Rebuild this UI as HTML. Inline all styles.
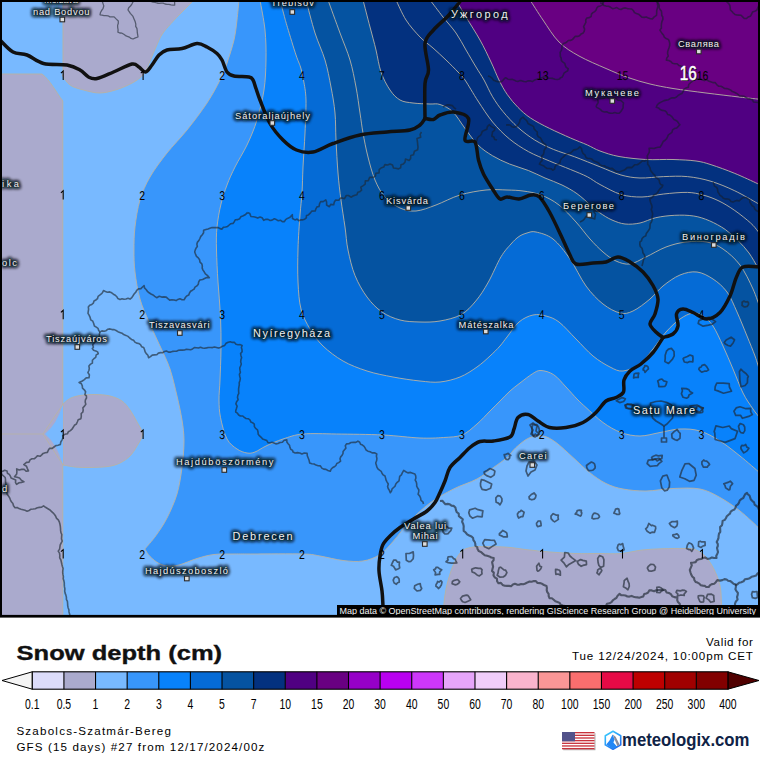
<!DOCTYPE html>
<html><head><meta charset="utf-8"><title>Snow depth (cm)</title>
<style>
html,body{margin:0;padding:0;background:#fff;}
body{width:760px;height:760px;overflow:hidden;font-family:"Liberation Sans",sans-serif;}
svg{display:block;}
text{font-family:"Liberation Sans",sans-serif;}
.cl{fill:none;stroke:#b8b2a4;stroke-width:0.9;}
.num{font-size:12.8px;fill:#000;text-anchor:middle;text-rendering:geometricPrecision;}
.city{font-size:11px;fill:#fff;text-anchor:middle;letter-spacing:0.6px;}
.cityb{font-size:12.5px;fill:#fff;text-anchor:middle;letter-spacing:1.3px;}
.halo{stroke:#0a0e1a;stroke-opacity:0.55;stroke-width:4.2;stroke-linejoin:round;fill:#0a0e1a;}
.adm{fill:none;stroke:#1e3c64;stroke-opacity:0.75;stroke-width:1.3;stroke-linejoin:round;}
.adm2{fill:none;stroke:#1e2832;stroke-opacity:0.66;stroke-width:2.1;stroke-linejoin:round;}
.brd{fill:none;stroke:#111;stroke-width:3.5;stroke-linejoin:round;stroke-linecap:round;}
.mk{fill:#dcdcdc;stroke:#2a2a2a;stroke-width:1.1;}
.cb{font-size:14.5px;fill:#000;text-anchor:middle;}
.inf{font-size:11.6px;fill:#000;letter-spacing:0.55px;}
</style></head><body>
<svg width="760" height="760" viewBox="0 0 760 760">
<defs>
<clipPath id="mapclip"><rect x="0" y="0" width="760" height="617"/></clipPath>
<filter id="blur" x="-20%" y="-40%" width="140%" height="180%"><feGaussianBlur stdDeviation="1.8"/></filter>
</defs>
<rect x="0" y="0" width="760" height="760" fill="#fff"/>
<g clip-path="url(#mapclip)">

<rect x="0" y="0" width="760" height="617" fill="#78b9ff"/>
<path d="M63,-2 L63,75 L62.0,75.0C63.3,76.7 66.4,82.5 70.0,85.0C73.6,87.5 78.5,88.7 83.5,90.0C88.5,91.3 94.4,93.1 100.0,93.0C105.6,92.9 111.3,91.3 117.0,89.5C122.7,87.7 129.5,84.7 134.0,82.0C138.5,79.3 141.2,77.2 144.0,73.5C146.8,69.8 148.5,64.4 150.5,60.0C152.5,55.6 153.9,51.5 156.0,47.0C158.1,42.5 159.3,38.2 163.0,33.0C166.7,27.8 175.5,18.8 178.0,16.0 L196,-2Z" fill="#aaaacd" stroke="#b8b2a4" stroke-width="0.9"/>
<path d="M0,74 L42,74 C50,80 56,92 62.8,101 L62.8,617 L0,617Z" fill="#aaaacd" stroke="#b8b2a4" stroke-width="0.9"/>
<path d="M63.0,404.0C64.2,403.1 67.2,399.9 70.0,398.5C72.8,397.1 75.8,396.2 80.0,395.5C84.2,394.8 90.0,394.4 95.0,394.5C100.0,394.6 105.5,394.9 110.0,396.0C114.5,397.1 118.7,398.7 122.0,401.0C125.3,403.3 127.5,406.5 130.0,410.0C132.5,413.5 134.9,418.0 137.0,422.0C139.1,426.0 142.5,430.0 142.5,434.0C142.5,438.0 139.1,442.3 137.0,446.0C134.9,449.7 132.8,453.2 130.0,456.0C127.2,458.8 123.7,461.2 120.0,463.0C116.3,464.8 113.0,465.8 108.0,466.5C103.0,467.2 95.5,467.4 90.0,467.5C84.5,467.6 79.5,467.4 75.0,467.0C70.5,466.6 65.0,465.3 63.0,465.0Z" fill="#aaaacd" stroke="#b8b2a4" stroke-width="0.9"/>
<path d="M63,404 Q57,424 45,434 Q57,444 63,465Z" fill="#78b9ff"/>
<path d="M63,404 L43,434 L63,465" fill="none" stroke="#b8b2a4" stroke-width="0.9"/>
<path d="M0,434 L43,434" fill="none" stroke="#b8b2a4" stroke-width="0.8"/>
<path d="M443.5,617.0C443.6,614.7 443.4,608.4 444.0,603.0C444.6,597.6 445.4,590.9 447.0,584.5C448.6,578.1 451.0,570.1 453.5,564.5C456.0,558.9 458.7,553.9 462.0,551.0C465.3,548.1 469.7,547.7 473.5,547.0C477.3,546.3 479.4,546.6 485.0,546.6C490.6,546.6 500.0,546.7 507.0,547.2C514.0,547.7 519.8,548.9 527.0,549.7C534.2,550.5 542.0,551.4 550.0,552.0C558.0,552.6 566.7,553.2 575.0,553.5C583.3,553.8 592.3,553.5 600.0,553.5C607.7,553.5 614.0,554.1 621.0,553.5C628.0,552.9 635.0,550.8 642.0,550.0C649.0,549.2 656.0,549.0 663.0,548.7C670.0,548.5 678.7,548.4 684.0,548.5C689.3,548.6 691.5,548.2 695.0,549.5C698.5,550.8 701.9,552.8 705.0,556.0C708.1,559.2 711.2,563.8 713.7,568.7C716.2,573.6 718.7,579.5 720.0,585.5C721.3,591.5 721.2,599.2 721.5,604.5C721.8,609.8 721.9,614.9 722.0,617.0Z" fill="#aaaacd" stroke="#b8b2a4" stroke-width="0.9"/>
<path d="M239.0,0.0C238.7,3.3 237.8,13.3 237.0,20.0C236.2,26.7 235.7,32.8 234.0,40.0C232.3,47.2 229.3,56.3 227.0,63.0C224.7,69.7 223.3,73.3 220.0,80.0C216.7,86.7 212.5,94.7 207.0,103.0C201.5,111.3 193.7,121.7 187.0,130.0C180.3,138.3 173.2,145.2 167.0,153.0C160.8,160.8 154.5,169.2 150.0,177.0C145.5,184.8 142.5,191.7 140.0,200.0C137.5,208.3 136.0,218.7 135.0,227.0C134.0,235.3 134.0,242.5 134.0,250.0C134.0,257.5 134.0,263.8 135.0,272.0C136.0,280.2 137.7,290.7 140.0,299.0C142.3,307.3 145.7,314.2 149.0,322.0C152.3,329.8 156.5,338.2 160.0,346.0C163.5,353.8 167.2,360.7 170.0,369.0C172.8,377.3 175.0,387.5 177.0,396.0C179.0,404.5 180.8,412.5 182.0,420.0C183.2,427.5 184.0,433.1 184.0,441.0C184.0,448.9 183.2,458.7 182.0,467.5C180.8,476.3 179.5,485.6 177.0,494.0C174.5,502.4 170.5,511.1 167.0,518.0C163.5,524.9 159.7,530.3 156.0,535.5C152.3,540.7 146.7,546.8 144.8,549.0L144.8,549.0C145.7,550.2 147.6,554.1 150.0,556.5C152.4,558.9 156.0,561.9 159.0,563.5C162.0,565.1 164.7,565.8 168.0,566.0C171.3,566.2 174.2,566.2 179.0,565.0C183.8,563.8 191.2,560.2 197.0,558.5C202.8,556.8 207.8,555.2 214.0,554.5C220.2,553.8 227.3,554.1 234.0,554.0C240.7,553.9 242.5,554.0 254.0,554.0C265.5,554.0 292.0,553.7 303.0,554.0C314.0,554.3 313.3,554.9 320.0,556.0C326.7,557.1 335.8,559.7 343.0,560.5C350.2,561.3 356.8,562.0 363.0,561.0C369.2,560.0 374.9,557.8 380.0,554.5C385.1,551.2 388.5,546.6 393.5,541.0C398.5,535.4 403.9,527.3 410.0,521.0C416.1,514.7 422.8,508.3 430.0,503.0C437.2,497.7 445.7,493.0 453.5,489.0C461.3,485.0 470.3,482.6 477.0,479.0C483.7,475.4 488.5,471.1 493.5,467.5C498.5,463.9 503.2,460.8 507.0,457.5C510.8,454.2 512.3,450.8 516.0,447.5C519.7,444.2 524.5,439.9 529.0,438.0C533.5,436.1 538.5,435.2 543.0,436.0C547.5,436.8 551.0,438.9 556.0,442.5C561.0,446.1 567.4,452.5 573.0,457.5C578.6,462.5 584.0,468.2 589.5,472.5C595.0,476.8 600.4,480.8 606.0,483.5C611.6,486.2 616.3,487.8 623.0,489.0C629.7,490.2 637.7,491.1 646.0,491.0C654.3,490.9 664.0,488.8 673.0,488.5C682.0,488.2 692.2,487.5 700.0,489.0C707.8,490.5 713.3,493.8 720.0,497.5C726.7,501.2 733.3,505.8 740.0,511.0C746.7,516.2 756.7,526.0 760.0,529.0L762,529.0 L762,-2 L239.0,-2Z" fill="#3896fb" stroke="#b8b2a4" stroke-width="0.9"/>
<path d="M260.0,0.0C260.8,5.0 264.0,20.0 265.0,30.0C266.0,40.0 266.2,50.0 266.0,60.0C265.8,70.0 265.5,80.0 264.0,90.0C262.5,100.0 259.8,110.8 257.0,120.0C254.2,129.2 250.7,137.2 247.0,145.0C243.3,152.8 238.3,160.3 235.0,167.0C231.7,173.7 229.3,178.8 227.0,185.0C224.7,191.2 222.7,197.0 221.0,204.0C219.3,211.0 217.8,219.3 217.0,227.0C216.2,234.7 216.3,240.8 216.5,250.0C216.7,259.2 217.3,271.0 218.0,282.0C218.7,293.0 220.0,304.8 220.5,316.0C221.0,327.2 221.1,338.3 221.0,349.0C220.9,359.7 220.3,371.5 220.0,380.0C219.7,388.5 218.9,393.8 219.0,400.0C219.1,406.2 219.2,411.0 220.5,417.5C221.8,424.0 224.2,433.8 227.0,439.0C229.8,444.2 233.7,446.7 237.0,449.0C240.3,451.3 244.0,452.5 247.0,453.0C250.0,453.5 251.8,453.2 255.0,452.0C258.2,450.8 261.3,448.2 266.0,446.0C270.7,443.8 276.8,441.0 283.0,439.0C289.2,437.0 294.1,434.8 303.0,434.0C311.9,433.2 323.2,433.8 336.5,434.0C349.8,434.2 369.1,434.3 383.0,435.0C396.9,435.7 409.9,437.6 420.0,438.0C430.1,438.4 436.5,438.0 443.5,437.5C450.5,437.0 456.4,437.2 462.0,435.0C467.6,432.8 472.3,428.0 477.0,424.0C481.7,420.0 486.2,414.8 490.0,411.0C493.8,407.2 496.7,404.3 500.0,401.0C503.3,397.7 506.7,394.0 510.0,391.0C513.3,388.0 516.2,385.9 520.0,383.0C523.8,380.1 529.1,375.8 532.6,373.7C536.1,371.6 537.5,370.3 541.0,370.5C544.5,370.7 549.5,371.9 553.7,374.7C557.9,377.4 562.1,382.9 566.0,387.0C569.9,391.1 573.7,395.6 577.0,399.0C580.3,402.4 581.7,403.6 586.0,407.5C590.3,411.4 597.2,418.3 603.0,422.5C608.8,426.7 614.8,430.2 621.0,432.5C627.2,434.8 633.5,436.0 640.0,436.0C646.5,436.0 653.3,433.7 660.0,432.5C666.7,431.3 673.3,429.2 680.0,429.0C686.7,428.8 693.3,429.0 700.0,431.0C706.7,433.0 713.3,436.8 720.0,441.0C726.7,445.2 733.3,450.7 740.0,456.0C746.7,461.3 756.7,470.2 760.0,473.0L762,473.0 L762,-2 L260.0,-2Z" fill="#0882fb" stroke="#b8b2a4" stroke-width="0.9"/>
<path d="M280.0,0.0C280.7,2.5 282.8,10.4 284.0,15.0C285.2,19.6 285.5,20.8 287.5,27.5C289.5,34.2 293.8,48.4 296.0,55.0C298.2,61.6 299.2,62.8 300.5,67.0C301.8,71.2 302.6,74.5 303.5,80.0C304.4,85.5 305.8,91.2 306.0,100.0C306.2,108.8 305.5,121.8 305.0,133.0C304.5,144.2 303.5,157.0 303.0,167.0C302.5,177.0 302.5,185.0 302.0,193.0C301.5,201.0 300.7,205.7 300.0,215.0C299.3,224.3 298.3,237.8 298.0,249.0C297.7,260.2 297.5,272.0 298.0,282.0C298.5,292.0 299.0,301.2 301.0,309.0C303.0,316.8 306.3,322.8 310.0,329.0C313.7,335.2 317.5,340.7 323.0,346.0C328.5,351.3 335.7,356.8 343.0,361.0C350.3,365.2 358.7,368.3 367.0,371.0C375.3,373.7 384.2,375.3 393.0,377.0C401.8,378.7 412.2,380.2 420.0,381.0C427.8,381.8 433.3,382.7 440.0,382.0C446.7,381.3 453.8,379.5 460.0,377.0C466.2,374.5 472.0,370.5 477.0,367.0C482.0,363.5 486.2,359.5 490.0,356.0C493.8,352.5 497.2,349.2 500.0,346.0C502.8,342.8 503.8,341.0 507.0,337.0C510.2,333.0 514.7,325.7 519.0,322.0C523.3,318.3 528.5,316.0 533.0,315.0C537.5,314.0 541.7,314.8 546.0,316.0C550.3,317.2 554.0,318.2 559.0,322.0C564.0,325.8 570.3,333.3 576.0,339.0C581.7,344.7 587.3,351.3 593.0,356.0C598.7,360.7 605.0,364.5 610.0,367.0C615.0,369.5 618.0,371.5 623.0,371.0C628.0,370.5 635.0,367.7 640.0,364.0C645.0,360.3 648.7,354.3 653.0,349.0C657.3,343.7 661.5,337.0 666.0,332.0C670.5,327.0 675.5,322.2 680.0,319.0C684.5,315.8 689.2,313.5 693.0,313.0C696.8,312.5 699.7,313.8 703.0,316.0C706.3,318.2 709.7,321.0 713.0,326.0C716.3,331.0 719.7,338.8 723.0,346.0C726.3,353.2 729.7,361.2 733.0,369.0C736.3,376.8 739.7,386.3 743.0,393.0C746.3,399.7 750.2,404.8 753.0,409.0C755.8,413.2 758.8,416.5 760.0,418.0L762,418.0 L762,-2 L280.0,-2Z" fill="#056bd6" stroke="#b8b2a4" stroke-width="0.9"/>
<path d="M306.0,0.0C307.5,5.5 311.8,23.0 315.0,33.0C318.2,43.0 322.3,51.0 325.0,60.0C327.7,69.0 329.3,78.2 331.0,87.0C332.7,95.8 334.2,104.2 335.0,113.0C335.8,121.8 335.5,130.0 336.0,140.0C336.5,150.0 337.2,163.0 338.0,173.0C338.8,183.0 339.8,191.0 341.0,200.0C342.2,209.0 343.8,218.7 345.0,227.0C346.2,235.3 346.3,241.9 348.0,250.0C349.7,258.1 351.8,267.7 355.0,275.5C358.2,283.3 362.5,290.9 367.0,297.0C371.5,303.1 376.5,308.2 382.0,312.0C387.5,315.8 393.7,318.3 400.0,320.0C406.3,321.7 413.3,321.8 420.0,322.0C426.7,322.2 433.2,322.2 440.0,321.0C446.8,319.8 455.0,318.0 461.0,314.7C467.0,311.4 471.2,306.4 475.8,301.0C480.4,295.6 484.2,289.4 488.4,282.0C492.6,274.6 497.2,263.1 501.0,256.8C504.8,250.5 508.0,247.4 511.0,244.0C514.0,240.6 516.3,238.3 519.0,236.5C521.7,234.7 524.2,233.8 527.0,233.0C529.8,232.2 531.7,231.0 536.0,232.0C540.3,233.0 547.3,234.5 553.0,239.0C558.7,243.5 564.5,251.2 570.0,259.0C575.5,266.8 580.5,278.5 586.0,286.0C591.5,293.5 597.3,299.5 603.0,304.0C608.7,308.5 615.0,311.8 620.0,313.0C625.0,314.2 628.0,313.3 633.0,311.0C638.0,308.7 645.0,303.2 650.0,299.0C655.0,294.8 658.0,290.0 663.0,286.0C668.0,282.0 674.3,277.3 680.0,275.0C685.7,272.7 691.5,271.3 697.0,272.0C702.5,272.7 708.0,275.7 713.0,279.0C718.0,282.3 723.0,286.5 727.0,292.0C731.0,297.5 733.7,304.7 737.0,312.0C740.3,319.3 744.0,328.7 747.0,336.0C750.0,343.3 752.8,350.0 755.0,356.0C757.2,362.0 759.2,369.3 760.0,372.0L762,372.0 L762,-2 L306.0,-2Z" fill="#0553a1" stroke="#b8b2a4" stroke-width="0.9"/>
<path d="M363.0,0.0C364.2,4.5 367.8,18.7 370.0,27.0C372.2,35.3 374.2,42.5 376.0,50.0C377.8,57.5 378.7,65.3 381.0,72.0C383.3,78.7 386.8,85.3 390.0,90.0C393.2,94.7 396.2,97.8 400.0,100.0C403.8,102.2 408.0,102.3 413.0,103.0C418.0,103.7 425.5,103.8 430.0,104.0C434.5,104.2 436.2,103.2 440.0,104.5C443.8,105.8 448.4,107.6 452.6,111.6C456.8,115.6 460.8,122.8 465.0,128.4C469.2,134.0 473.4,140.4 478.0,145.0C482.6,149.6 487.4,152.6 492.6,155.8C497.9,159.0 503.5,161.6 509.5,164.0C515.5,166.4 522.5,168.2 528.4,170.5C534.3,172.8 539.4,175.6 545.0,178.0C550.6,180.4 556.7,182.4 562.0,185.0C567.3,187.6 572.1,190.2 577.0,193.7C581.9,197.2 587.8,202.8 591.6,206.0C595.4,209.2 596.6,210.7 600.0,213.0C603.4,215.3 607.8,218.2 612.0,220.0C616.2,221.8 620.3,223.5 625.0,224.0C629.7,224.5 634.9,224.1 640.0,223.0C645.1,221.9 650.0,219.0 655.8,217.7C661.6,216.4 668.5,215.6 674.8,215.3C681.1,215.0 687.9,215.1 693.7,216.0C699.5,216.9 704.2,218.6 709.5,220.8C714.8,223.1 720.5,226.2 725.3,229.5C730.0,232.8 734.0,236.7 738.0,240.6C742.0,244.5 745.7,248.5 749.0,253.0C752.3,257.5 755.5,263.7 757.7,267.4C759.9,271.1 761.3,273.7 762.0,275.0L762,275.0 L762,-2 L363.0,-2Z" fill="#03317f" stroke="#b8b2a4" stroke-width="0.9"/>
<path d="M456.0,0.0C457.7,2.8 462.0,10.3 466.0,17.0C470.0,23.7 475.8,32.5 480.0,40.0C484.2,47.5 487.8,55.3 491.0,62.0C494.2,68.7 496.3,74.5 499.0,80.0C501.7,85.5 504.2,90.1 507.4,94.7C510.6,99.3 514.1,103.5 518.0,107.4C521.9,111.3 525.2,114.5 530.5,118.0C535.8,121.5 542.8,125.1 549.5,128.4C556.2,131.7 564.2,135.2 570.5,138.0C576.8,140.8 582.5,142.8 587.4,145.0C592.3,147.2 594.7,149.1 600.0,151.0C605.3,152.9 611.3,155.1 619.0,156.5C626.7,157.9 637.0,159.0 646.0,159.5C655.0,160.0 664.7,159.2 673.0,159.5C681.3,159.8 689.7,160.1 696.0,161.0C702.3,161.9 704.5,162.6 711.0,164.7C717.5,166.8 727.0,170.2 734.8,173.4C742.6,176.6 753.2,181.6 757.7,183.7C762.2,185.8 761.3,185.6 762.0,186.0L762,186.0 L762,-2 L456.0,-2Z" fill="#500082" stroke="#b8b2a4" stroke-width="0.9"/>
<path d="M530.0,0.0C532.2,3.3 538.2,13.0 543.0,20.0C547.8,27.0 553.0,36.0 559.0,42.0C565.0,48.0 571.2,51.6 579.0,56.0C586.8,60.4 597.8,64.9 606.0,68.5C614.2,72.1 620.7,74.9 628.0,77.5C635.3,80.1 642.5,82.2 650.0,84.0C657.5,85.8 663.7,87.0 673.0,88.5C682.3,90.0 695.0,91.6 706.0,93.0C717.0,94.4 729.7,95.9 739.0,97.0C748.3,98.1 758.2,99.1 762.0,99.5L762,99.5 L762,-2 L530.0,-2Z" fill="#690082" stroke="#b8b2a4" stroke-width="0.9"/>
<path class="cl" d="M328.0,0.0C330.0,5.5 336.3,23.0 340.0,33.0C343.7,43.0 347.3,51.0 350.0,60.0C352.7,69.0 354.3,78.2 356.0,87.0C357.7,95.8 358.8,105.3 360.0,113.0C361.2,120.7 361.7,125.7 363.0,133.0C364.3,140.3 366.0,149.2 368.0,157.0C370.0,164.8 372.2,173.3 375.0,180.0C377.8,186.7 380.8,192.3 385.0,197.0C389.2,201.7 394.8,205.7 400.0,208.0C405.2,210.3 410.0,211.5 416.0,211.0C422.0,210.5 428.7,207.7 436.0,205.0C443.3,202.3 451.7,197.5 460.0,195.0C468.3,192.5 478.2,190.8 486.0,190.0C493.8,189.2 500.8,189.8 507.0,190.0C513.2,190.2 517.3,190.2 523.0,191.0C528.7,191.8 535.0,192.7 541.0,195.0C547.0,197.3 553.2,200.5 559.0,205.0C564.8,209.5 570.8,216.3 576.0,222.0C581.2,227.7 585.5,234.0 590.0,239.0C594.5,244.0 598.7,248.3 603.0,252.0C607.3,255.7 611.5,259.0 616.0,261.0C620.5,263.0 625.0,264.7 630.0,264.0C635.0,263.3 640.0,259.8 646.0,257.0C652.0,254.2 659.3,249.5 666.0,247.0C672.7,244.5 679.2,242.8 686.0,242.0C692.8,241.2 700.8,240.8 707.0,242.0C713.2,243.2 717.5,245.2 723.0,249.0C728.5,252.8 735.0,258.3 740.0,265.0C745.0,271.7 749.7,281.8 753.0,289.0C756.3,296.2 758.8,304.8 760.0,308.0"/>
<path class="cl" d="M396.0,0.0C397.7,3.3 402.0,13.8 406.0,20.0C410.0,26.2 415.5,32.3 420.0,37.0C424.5,41.7 428.7,44.2 433.0,48.0C437.3,51.8 441.8,56.0 446.0,60.0C450.2,64.0 454.8,68.7 458.0,72.0C461.2,75.3 461.7,75.2 465.0,80.0C468.3,84.8 473.4,94.0 478.0,101.0C482.6,108.0 487.4,115.7 492.6,122.0C497.9,128.3 503.5,134.1 509.5,139.0C515.5,143.9 521.7,147.9 528.4,151.6C535.1,155.3 542.5,158.0 549.5,161.0C556.5,164.0 564.2,166.9 570.5,169.5C576.8,172.1 582.5,174.3 587.4,176.8C592.3,179.3 594.4,181.6 600.0,184.5C605.6,187.4 614.0,192.4 621.0,194.5C628.0,196.6 634.9,197.1 642.0,197.0C649.1,196.9 656.1,194.8 663.7,194.0C671.3,193.2 680.9,192.2 687.4,192.4C693.9,192.6 697.7,193.6 703.0,195.0C708.3,196.4 713.7,198.4 719.0,201.0C724.3,203.6 729.5,206.8 734.8,210.5C740.1,214.2 746.8,219.6 750.6,223.0C754.4,226.4 755.8,228.8 757.7,231.0C759.6,233.2 761.3,235.2 762.0,236.0"/>
<path class="cl" d="M430.0,0.0C432.2,2.8 438.7,11.5 443.0,17.0C447.3,22.5 452.2,27.5 456.0,33.0C459.8,38.5 462.7,44.3 466.0,50.0C469.3,55.7 473.0,62.0 476.0,67.0C479.0,72.0 481.2,75.0 484.0,80.0C486.8,85.0 489.4,91.5 492.6,96.8C495.8,102.1 498.8,106.5 503.0,111.6C507.2,116.7 512.7,122.7 518.0,127.4C523.3,132.1 528.8,136.3 534.7,140.0C540.7,143.7 547.0,146.7 553.7,149.5C560.4,152.3 567.0,153.9 574.7,156.8C582.4,159.7 592.3,163.8 600.0,166.8C607.7,169.8 614.3,173.1 621.0,175.0C627.7,176.9 632.9,177.7 640.0,178.0C647.1,178.3 655.8,176.8 663.7,176.6C671.6,176.4 679.5,175.8 687.4,176.6C695.3,177.4 703.1,178.9 711.0,181.3C718.9,183.7 727.0,187.1 734.8,190.8C742.6,194.5 753.2,200.9 757.7,203.4C762.2,205.9 761.3,205.6 762.0,206.0"/>
<g class="adm" style="stroke:#1e2832;stroke-opacity:0.6;stroke-width:1.3">
<path d="M101.0,0.0L102.4,1.8L103.1,3.9L103.8,5.9L103.1,8.3L101.7,10.4L100.5,12.5L100.0,14.8L102.0,15.1L104.0,15.6L106.0,15.7L108.0,15.8L109.9,16.9L112.0,16.9L114.1,16.9L116.1,18.9L118.3,21.0L118.3,23.2L117.6,25.4L117.7,27.6L118.1,29.8L117.9,32.2L119.8,33.0L122.0,33.2L123.8,34.3L125.5,35.6L127.4,36.4L129.3,37.1L131.0,38.4L133.0,39.0L135.4,37.8L138.0,37.0L137.7,34.9L137.3,32.7L137.2,30.6L136.9,28.4L135.7,26.4L135.8,24.2L135.3,22.1L134.6,20.3L133.8,18.4L133.0,16.4L131.7,14.9L130.3,13.4L129.2,11.7L128.0,10.0L128.7,7.7L130.5,6.0L131.9,4.1L132.9,1.9L135.0,0.0"/>
<path d="M147.0,0.0L149.1,0.4L150.9,1.4L152.9,2.1L155.0,2.4L157.0,3.0L159.0,3.3L161.0,3.1L163.1,3.2L165.0,4.0L167.0,4.4L169.0,4.4L171.0,4.8L173.0,5.1L174.7,5.0L174.6,2.5L175.0,0.0"/>
</g>
<g class="adm" style="stroke:#1e2832;stroke-opacity:0.64;stroke-width:1.6">
<path d="M247.4,212.6L245.6,214.5L243.3,215.8L240.8,216.8L239.7,218.7L237.8,219.6L235.4,219.7L234.3,221.7L233.0,223.4L230.8,223.7L229.2,225.0L227.6,226.4L225.6,227.0L223.4,227.3L222.0,229.1L220.0,228.6L218.1,227.5L216.0,227.6L214.2,227.6L212.0,227.6L209.9,228.2L208.0,229.0L205.9,229.6L203.6,230.3L203.6,232.8L202.3,234.7L200.8,236.4L199.9,238.5L198.9,240.5L197.5,242.1L196.9,244.1L197.3,246.5L196.0,248.2L195.2,250.1L194.7,251.9L195.5,254.1L196.5,256.3L198.3,257.9L199.6,259.8L200.0,262.2L201.8,263.8L202.3,265.9L202.2,268.1L203.0,270.1L204.2,271.8L205.4,273.9L207.3,275.3L209.3,277.7L206.7,277.5L204.6,278.5L202.6,279.5L199.8,280.0L198.7,281.8L198.3,284.2L196.9,285.9L195.0,287.1L194.1,289.1L192.4,290.2L190.6,291.3L189.5,293.0L188.7,295.1L186.7,295.9L185.4,297.5L184.1,299.8L182.1,299.8L179.9,298.7L177.9,299.4L176.1,300.6L174.2,300.0L172.0,299.8L169.7,300.1L167.9,298.7L166.2,297.1L164.0,296.9L161.7,297.1L159.3,296.3L156.7,297.7L154.8,296.3L153.0,294.9L151.0,294.0L149.1,292.8L147.7,291.7L146.3,289.7L144.5,287.9L144.1,285.6L142.5,287.0L140.9,288.6L138.5,288.9L136.7,290.3L135.7,292.3L134.2,293.9L133.0,295.8L131.8,297.6L130.0,299.1L128.0,298.3L126.0,299.0L124.0,299.3L122.0,298.8L120.0,299.5L117.9,298.6L116.8,296.7L115.3,295.2L113.4,294.2L111.7,292.8L109.7,291.9L107.4,292.2L105.4,291.5L103.5,290.5L102.6,292.4L101.3,293.9L99.7,295.2L98.1,296.4L97.5,298.7L95.8,300.0L94.0,301.0L93.3,303.2L91.8,304.5L89.7,305.3L88.3,307.0L88.6,309.1L88.3,311.2L88.0,313.4L89.1,315.1L90.1,317.3L90.7,319.8L92.8,321.2L93.7,323.5L94.4,326.0L96.3,327.1L98.0,328.3L98.7,330.4L100.0,331.9L101.9,330.9L104.1,331.2L106.1,330.7L107.9,329.2L110.0,328.9L112.0,329.6L114.2,329.6L116.1,330.5L117.9,331.7L119.8,332.4L122.0,333.2L123.7,334.6L125.9,335.4L128.0,336.4L129.7,338.0L131.5,339.4L133.6,340.3L134.9,342.1L136.7,343.1L138.8,343.5L140.5,344.6L141.6,346.7L143.6,347.4L144.5,349.5L145.1,351.7L146.3,353.6L147.9,355.3L148.6,357.7L150.5,356.6L152.2,355.1L154.5,354.9L156.8,354.8L158.4,353.1L160.5,352.6L162.6,352.8L164.4,351.5L166.4,351.0L168.5,352.1L170.6,352.1L172.5,351.4L174.5,351.2L176.5,351.2L178.5,350.3L180.4,350.0L182.5,350.1L184.5,350.0L186.4,349.3L188.5,349.5L190.6,349.7L192.5,348.9L194.4,347.6L196.5,347.8L198.5,348.0L200.5,347.2L202.5,348.0L204.5,348.2L206.5,347.9L208.5,347.5L210.5,347.5L212.5,347.6L214.5,347.0L216.5,347.5L218.5,348.1L220.5,347.5L222.4,346.2L224.7,345.4L226.1,343.3L228.2,342.2L230.4,341.7L232.3,342.4L234.5,342.4L236.0,344.3L238.0,344.7L240.2,344.6L242.1,345.5L241.4,347.5L242.0,349.6L242.1,351.7L240.6,353.6L241.0,355.7L241.6,357.8L240.9,359.8L240.7,361.9L241.3,364.0L240.6,366.0L239.7,368.0L240.0,370.2L240.4,372.3L239.4,374.3L239.8,376.5L240.3,378.6L239.9,380.7L239.2,382.7L239.3,384.8L238.9,386.9L238.6,388.9L238.6,391.1L238.8,393.3L237.8,395.4L237.5,397.5L238.1,399.8L236.6,401.7L235.9,403.8L237.1,406.2L236.5,408.3L235.8,410.4L235.7,412.1L237.4,413.2L238.7,415.0L240.4,416.0L242.8,416.0L244.3,417.4L246.0,418.5L248.2,418.7L249.9,419.8L250.9,422.1L252.5,422.7L254.3,424.2L254.4,426.6L255.6,428.4L257.5,429.9L258.0,432.0L258.2,434.2L259.6,435.9L261.2,437.3L262.6,439.1L264.7,439.8L266.8,440.6L268.0,442.6L270.0,442.8L272.1,442.3L274.0,443.0L275.9,443.9L278.0,443.5L280.1,442.5L282.4,442.2L284.2,440.3L286.8,439.9L286.9,442.1L288.1,443.7L289.5,445.2L289.9,447.3L290.7,449.2L292.6,450.4L293.0,452.0L295.2,453.0L297.5,452.6L299.8,453.0L301.9,454.0L304.3,453.0L307.1,453.3L307.3,455.8L308.2,458.0L309.1,460.3L309.7,463.1L311.8,463.7L314.1,464.0L316.0,465.1L318.1,465.7L320.4,465.9L321.8,468.1L323.7,469.1L326.0,469.4L327.9,470.5L330.3,471.3L331.1,469.2L332.5,467.8L334.3,466.8L335.9,465.5L336.8,463.5L338.7,462.6L340.6,461.2L340.0,458.8L340.7,456.9L342.1,455.3L343.0,453.5L343.1,451.4L344.5,449.7L345.9,448.1L345.3,445.7L346.5,443.9L348.9,443.7L351.0,442.5L353.5,442.4L355.9,442.4L357.9,441.1L359.7,442.2L360.5,444.2L362.5,445.1L364.1,446.3L365.2,448.1L366.1,450.0L367.9,451.2L370.1,451.7L372.1,452.9L374.5,452.8L376.8,454.0L376.4,456.2L376.9,458.5L376.6,460.8L375.7,463.0L376.4,465.2L376.9,467.1L377.9,468.9L379.5,470.2L381.2,471.3L382.0,473.3L383.2,474.9L385.0,476.0L385.6,478.1L386.1,480.2L387.1,482.1L388.3,484.0L387.6,486.5L388.2,488.5L389.4,490.4L390.3,492.7L391.5,491.1L392.1,488.9L393.6,487.5L395.1,486.1L395.8,484.0L397.2,482.3L399.0,480.8L399.4,478.6L399.7,476.3L401.4,474.8L402.3,472.8L403.7,470.4L405.8,471.7L407.9,472.9L410.5,472.4L412.7,473.2L414.9,474.0L415.7,475.9L415.9,478.0L415.2,480.1L416.3,482.0L416.7,484.0L416.7,486.1L417.6,488.0L418.8,489.8L418.7,491.9L418.1,494.2L419.6,495.9L420.6,498.0L421.0,500.3L422.9,501.8L423.5,504.0"/>
<path d="M100.0,332.0L99.4,334.0L99.4,336.3L97.6,337.8L96.5,339.6L95.7,341.5L94.0,343.0L92.7,344.7L93.4,347.3L92.3,348.6L93.6,350.3L95.7,350.9L97.6,351.9L98.3,353.8L96.2,354.9L95.7,357.3L93.9,358.7L92.4,360.3L92.4,363.1L90.6,364.1L88.9,366.1L89.3,368.3L88.9,370.5L87.9,372.5L89.4,374.9L89.0,377.8L86.2,377.9L84.3,379.6L82.3,381.0L79.1,382.5L81.4,383.8L82.3,385.9L82.5,388.2L84.3,389.8L85.6,391.7L84.9,394.6L86.4,395.8L86.5,398.0L85.4,399.9L85.2,402.0L85.8,404.3L84.5,406.1L82.9,407.8L83.2,410.0L82.8,412.1L81.2,413.5L81.3,416.3L80.9,418.7L78.2,419.8L77.3,422.0L76.3,424.1L74.4,425.3L73.2,427.3L72.0,429.2L70.4,430.6L68.4,431.7L67.4,433.8L64.9,434.3L62.7,435.7L62.9,438.1L61.9,440.1L60.8,442.0L60.3,444.5L58.1,445.2L55.8,445.6L54.0,447.0L52.2,448.4L49.5,448.4L48.3,450.2L47.4,452.4L45.2,452.8L43.1,453.4L41.7,454.9L40.1,456.3L37.6,455.7L35.9,457.3L34.2,458.8L31.9,458.8L30.0,459.9L29.0,462.3L26.5,462.4L23.8,464.6L26.5,466.2L27.4,468.6L28.5,470.9L26.1,471.2L24.1,469.2L21.7,469.4L19.2,470.0L16.7,468.9L16.9,471.5L16.7,474.0L14.5,476.8L17.1,477.3L19.5,478.1L21.2,480.1L23.9,481.8L21.5,482.4L19.1,482.8L16.6,484.3L15.5,482.6L15.7,479.9L13.4,479.0L11.2,478.1L10.4,476.2L9.3,474.4L7.4,473.2L7.0,470.9L4.7,470.2L2.3,471.5L0.0,471.0"/>
<path d="M0.0,471.0L1.1,472.7L2.0,474.6L3.6,476.0L5.2,477.5L5.5,479.5L5.5,481.6L5.9,483.7L5.9,485.8L5.6,487.9L6.6,489.9L6.9,491.9L7.0,494.0L8.3,495.8L9.6,497.7L10.4,499.8L11.4,501.8L12.9,503.5L13.5,505.8L15.0,507.7L17.2,507.5L19.0,508.6L21.0,509.3L23.0,509.8L25.0,510.3L27.1,511.2L29.1,510.5L31.0,509.2L33.2,509.0L35.3,508.7L37.3,507.8L39.4,507.4L41.6,507.2L43.6,505.9L45.5,507.3L47.5,508.5L49.6,509.7L51.4,511.3L53.0,512.8L54.5,514.5L55.7,516.3L56.6,518.3L58.3,519.9L59.3,521.9L59.9,524.0L60.3,526.1L60.5,528.3L60.6,530.4L60.9,532.5L61.8,534.6L61.6,536.7L61.5,538.9L62.2,541.1L61.2,543.0L60.2,544.8L59.9,547.0L59.6,549.1L58.2,551.1L59.5,553.1L59.8,555.5L59.7,557.9L60.9,560.0L61.4,562.2L61.9,564.5L62.4,566.5L63.1,568.5L62.8,570.6L62.7,572.7L63.0,574.7L63.4,576.7L63.2,578.8L63.9,580.8L64.3,582.8L64.3,584.9L64.5,586.9L64.9,588.9L64.7,591.1L65.1,593.1L65.9,595.1L66.4,597.2L66.4,599.4L67.4,601.3L67.6,603.5L67.7,605.6L68.1,607.7L68.9,609.7L69.0,611.9L69.6,613.9L70.0,616.0"/>
</g>
<path class="adm" style="stroke:#1e2832;stroke-opacity:0.62;stroke-width:1.6" d="M247.4,212.6L249.8,213.6L250.9,216.5L253.7,216.8L255.7,217.3L257.7,218.1L260.1,217.1L262.1,217.8L263.7,220.3L266.0,219.2L268.1,219.4L270.1,220.5L272.1,220.1L274.3,218.8L276.3,219.6L278.3,220.8L280.4,220.2L282.3,221.6L284.4,221.6L285.6,219.6L287.4,218.4L289.6,217.6L292.3,214.7L292.5,218.5L295.0,219.9L297.1,219.1L299.0,220.8L301.0,219.8L302.2,219.9L304.7,219.2L306.3,217.9L306.5,215.4L308.4,214.9L310.5,212.9L311.7,211.1L315.2,210.9L315.9,208.8L317.0,206.9L319.0,206.5L319.6,203.7L320.7,201.5L323.2,201.6L325.8,199.9L326.6,202.1L326.6,205.0L329.4,206.7L330.7,204.4L333.7,204.8L334.3,202.0L335.7,200.0L338.8,200.2L340.1,198.4L342.2,197.9L344.5,198.7L346.3,195.5L348.5,195.5L351.0,197.2L353.0,196.0L354.9,195.2L356.9,194.7L357.8,192.2L359.6,191.8L361.6,190.1L360.8,187.1L363.2,185.6L365.2,184.1L365.3,180.9L368.3,180.6L369.7,177.2L373.3,177.4L375.4,176.1L375.9,173.2L379.0,172.9L379.2,169.7L381.0,168.0L383.7,167.1L384.9,164.6L387.6,165.0L390.0,164.0L392.5,165.1L393.5,168.0L395.6,168.2L398.5,168.9L400.7,167.7L401.0,164.7L403.4,163.9L405.0,162.2L405.5,159.1L409.1,160.4L410.6,158.5L410.8,155.5L413.5,154.8L414.4,151.2L417.7,149.7L418.0,147.1L417.7,144.5L417.5,142.3L417.0,138.6L420.7,137.2L420.1,134.3L421.5,132.0"/>
<g class="adm" style="stroke:#161e2a;stroke-opacity:0.6;stroke-width:1.6">
<path d="M606.0,0.0L604.3,1.2L603.0,2.7L602.4,4.9L600.4,5.9L598.2,6.5L596.8,8.0L596.1,10.1L594.8,11.6L592.9,12.6L591.5,14.1L591.1,16.5L589.3,17.6L586.9,18.0L585.7,19.9L585.9,22.3L584.8,24.4L583.6,26.6L584.6,29.1L584.2,31.4L582.9,33.3L581.0,34.1L579.5,35.7L577.6,36.4L575.3,36.3L573.9,37.9L572.4,39.6L570.5,40.4L568.3,40.5L566.8,42.0L565.1,43.1L563.3,43.6L561.9,45.6L562.0,48.0L561.4,50.3L560.1,52.4L560.3,54.8L560.3,56.4L561.2,58.2L561.4,60.7L563.0,62.1L564.7,63.3L565.3,65.4L566.2,67.3L568.2,68.6L567.7,70.8L565.8,71.9L564.0,73.2L563.2,75.1L562.3,77.0L560.1,77.9L559.7,79.0L557.2,79.5L554.9,79.3L552.8,78.4L550.5,78.2L548.1,78.3L545.9,76.7L543.8,76.6L542.0,77.8L540.0,78.5L537.9,78.7L536.0,79.6L534.1,80.3L532.3,81.6L529.9,80.7L527.9,80.9L526.0,81.8L524.0,81.5L522.1,80.9L520.1,80.5L517.8,81.5L515.9,80.9L514.0,80.1L512.1,79.2L510.0,79.5L507.9,79.2L505.6,77.7L503.9,79.2L502.3,81.0L500.3,81.9L498.2,81.7L495.8,81.1L493.6,80.2L492.1,78.2L490.3,76.8L488.0,76.0"/>
<path d="M656.5,0.0L656.7,2.1L658.4,3.6L659.3,5.4L659.1,7.7L660.0,9.5L661.4,11.1L661.7,13.2L661.7,15.3L662.8,17.0L662.9,19.3L662.0,21.3L661.5,23.5L661.3,25.7L661.4,28.0L659.9,30.1L661.0,31.9L662.2,33.6L663.6,35.2L664.3,37.2L666.1,38.6L668.4,39.4L669.3,41.4L669.7,43.4L669.7,45.6L669.1,47.6L668.4,49.6L667.7,51.6L667.6,53.8L668.3,56.1L666.8,57.9L666.4,60.1L668.7,60.5L670.8,61.4L672.4,63.3L674.6,63.8L677.1,63.7L678.8,65.4L680.9,66.1L683.2,66.8L685.1,68.1L685.3,70.8L686.6,72.6L688.6,73.6L690.0,75.3L691.2,77.2L693.0,78.5L692.8,81.2L690.5,82.7L688.7,84.5L688.3,87.3L686.0,88.0L684.0,89.1L683.2,91.4L682.0,93.4L679.9,94.3L678.1,95.5L676.5,97.0L674.5,97.9L672.3,97.8L670.2,98.6L668.3,99.7L666.2,100.1L664.1,100.6L662.1,101.6L660.5,102.4L658.6,103.5L657.2,105.0L656.3,107.3L658.5,107.9L660.2,109.6L662.3,110.4L664.7,110.7L666.5,112.2L667.7,114.5L669.9,115.1L671.5,116.3L672.8,117.9L674.0,119.6L676.0,120.4L677.6,121.7L678.7,123.4L679.9,124.8L678.3,126.4L676.8,127.9L674.4,128.6L672.6,129.9L671.9,132.4L670.2,133.6L668.4,134.9L667.5,136.9L666.5,138.8L665.1,140.3L663.2,141.5L662.3,143.4L661.3,145.3L660.0,147.3L658.0,147.3L656.0,147.7L654.1,148.5L652.0,148.3L649.1,148.2L649.4,150.4L649.2,152.4L648.2,154.2L647.2,156.0L647.5,158.2L647.6,159.5L647.7,161.9L647.7,164.3L649.1,166.1L650.1,168.0L650.5,170.3L651.8,172.1L653.2,173.8L654.8,175.3L655.6,177.5L657.7,178.6L659.2,180.1L659.6,182.7L660.8,184.6L662.8,185.3L661.8,187.4L660.1,188.7L658.7,190.4L657.7,192.4L656.1,194.0L653.9,194.9L652.9,196.8L649.8,199.0L650.2,201.1L650.8,203.1L651.7,205.1L652.1,207.1L651.3,209.4L652.0,211.4L652.6,213.4L652.5,215.3L651.9,217.4L652.2,219.7L651.5,221.8L650.2,223.7L650.0,225.8L649.9,228.1L648.9,230.0L647.6,231.7L646.3,233.4L645.8,235.8L643.7,236.9L642.1,238.5L641.5,240.8L640.0,241.8L639.8,244.3L640.3,246.5L642.0,248.3L642.6,250.5L642.9,252.8L644.3,254.7L645.1,257.2L643.6,259.2L643.1,261.5L642.6,263.8L642.0,266.0"/>
<path d="M693.0,78.5L695.3,78.6L697.5,79.0L699.8,78.5L702.0,79.8L704.2,80.6L706.6,79.7L708.5,81.0L710.6,81.8L712.7,82.6L715.1,82.6L716.7,84.6L718.5,86.2L720.9,86.2L722.9,87.3L724.6,88.5L726.9,88.6L728.9,89.2L730.8,90.1L732.4,91.6L734.4,92.3L736.2,93.2L738.0,94.4L739.6,96.0L741.9,96.0L744.2,96.3L746.0,97.5L747.9,98.7L750.1,98.9L752.2,99.7L753.6,102.0L755.8,102.2L758.1,102.5L760.0,103.5"/>
<path d="M726.5,0.0L727.0,2.1L728.8,3.6L729.9,5.5L730.2,7.7L730.4,10.0L732.1,11.6L733.2,13.0L734.9,14.4L736.8,15.0L739.0,15.1L741.1,15.3L742.7,16.9L744.3,18.5L746.5,18.5L748.1,17.1L750.3,16.3L751.6,14.3L752.5,12.0L754.7,11.2L756.8,10.2L757.7,8.0L758.7,5.9L760.0,4.0"/>
<path d="M596.0,107.0L596.8,104.7L598.2,102.6L597.7,99.2L599.8,98.7L601.9,98.4L604.1,98.1L606.1,96.4L608.0,97.6L609.8,98.6L611.9,98.5L614.1,97.6L616.1,98.4L617.9,100.2L620.6,100.4L622.5,102.0L623.5,103.1L623.1,105.4L623.1,107.9L621.9,109.9L620.9,111.5L619.2,113.3L617.1,113.3L614.9,112.6L613.1,113.1L610.8,113.3L608.7,112.9L606.7,111.8L604.5,112.0L602.1,111.3L600.3,109.4L598.2,108.1L596.0,107.0"/>
<path d="M506.0,125.0L508.1,124.9L510.2,125.0L511.9,126.8L513.9,127.2L515.6,126.8L517.5,125.5L518.7,123.9L519.6,122.0L520.0,119.9L521.4,118.4L523.0,117.0L524.2,118.6L525.9,119.8L527.2,121.4L528.0,123.5L529.8,124.5L531.8,125.4L533.6,126.6L534.1,128.9L535.6,130.5L537.3,132.0L537.2,134.6L538.1,136.6L540.3,137.8L541.5,139.6L542.3,141.6L543.8,143.3L545.7,144.6L546.4,147.2L545.0,148.8L544.0,150.6L543.9,152.7L543.3,154.6L541.6,156.1L542.0,158.4L542.0,160.6L540.5,162.2L539.4,164.1L541.4,165.0L543.4,165.7L545.1,167.1L546.9,168.4L549.2,168.5L551.4,168.9L552.7,170.2L554.6,169.0L555.0,166.8L556.3,165.1L558.5,164.1L560.0,162.6L560.4,160.3L561.5,158.5L563.1,157.2L564.6,155.6L566.3,154.2L568.4,153.5L570.6,152.9L572.2,151.5L573.7,149.9L576.0,149.6L578.0,148.6L579.9,146.8L581.5,148.5L582.0,151.1L582.9,153.3L584.9,154.8L585.9,157.3L587.5,158.5L589.8,158.5L591.8,159.1L593.3,160.6L595.1,161.6L597.1,162.2L598.8,163.2L600.2,165.0L602.1,165.8L604.3,165.8L606.1,166.9L608.1,167.5L610.0,168.6L612.3,168.4L614.0,169.9L615.7,171.4L617.8,171.8L619.9,171.8L621.8,171.0L623.8,170.3L625.6,169.3L627.1,167.6L629.3,167.4L631.7,167.6L633.3,166.2L634.9,164.7L637.2,164.7L639.0,163.7L640.7,162.4L642.3,160.8L644.7,161.2L646.5,160.0"/>
<path d="M713.0,182.0L713.9,184.0L714.5,186.1L716.7,187.4L717.6,189.4L717.8,191.8L719.0,193.6L720.0,195.4L721.8,196.5L723.3,198.2L725.3,198.9L727.5,199.0L729.5,199.6L731.0,201.4L733.0,202.1L734.9,201.1L736.8,200.4L739.2,201.0L740.8,199.3L742.4,197.8L744.6,197.7L746.1,197.3L747.8,198.6L749.6,199.9L749.9,202.3L751.1,204.0L752.2,205.7L754.1,206.9L754.8,209.0L756.3,210.5L758.3,211.6L759.7,213.2L760.0,215.5"/>
<path d="M580.0,222.0L582.4,220.8L584.3,219.1L586.2,216.3L588.3,217.2L590.5,218.0L592.8,218.2L594.8,219.0L595.0,216.7L595.6,214.4L594.1,212.3L594.2,209.4L595.8,211.1L598.0,211.2L600.0,212.0"/>
<path d="M475.0,142.0L476.9,140.8L477.3,138.4L478.5,136.6L480.5,135.4L481.5,133.5L482.3,131.4L484.5,130.2L486.8,129.2L487.4,126.6L489.2,124.7L491.5,126.6L494.8,128.2L494.5,130.3L492.5,131.9L492.2,133.9L491.8,136.2L493.8,137.1L494.7,139.4L497.0,140.0"/>
<path d="M443.0,107.0L445.6,105.6L447.7,104.7L450.0,105.1L452.3,105.6L453.9,107.6L456.0,109.0"/>
<path d="M600.0,3.0L602.4,3.2L603.9,5.5L606.1,6.1L608.6,6.2L610.6,7.3L612.6,8.7L614.7,8.3L616.8,7.6L618.9,8.9L621.0,9.5L623.2,8.3L625.3,7.9L627.4,8.6L629.2,8.8L631.7,9.0L633.3,10.5L634.5,12.6L636.4,13.5L638.5,14.2L640.2,15.6L641.9,17.2L644.1,17.4L646.4,17.0L648.4,18.1L650.4,18.8L652.4,18.9L654.2,16.9L656.5,15.4L656.7,12.6L656.7,10.4L657.3,8.4L657.9,6.3L657.4,4.1L658.0,2.0"/>
</g>
<g class="adm2">
<path d="M440.0,501.0L442.3,500.7L443.8,502.5L445.4,504.2L447.7,503.9L449.8,504.3L451.5,505.6L453.6,505.9L455.4,507.5L455.9,509.9L456.7,512.1L458.7,513.5L458.9,516.1L460.7,517.6L462.8,519.3L462.1,521.8L463.2,524.0L463.7,526.2L463.6,528.6L463.7,530.9L465.4,532.3L467.1,534.3L469.2,535.5L471.5,536.5L473.1,538.1L473.4,540.1L474.7,541.8L475.3,543.7L475.4,545.8L477.3,547.3L477.4,548.8L478.8,551.1L481.0,552.0L482.8,553.6L484.7,555.2L487.1,555.8L489.3,556.4L491.3,557.5L493.7,558.0L493.6,560.2L492.1,562.2L492.6,564.5L493.1,566.7L492.5,568.9L492.0,571.0L493.8,572.6L493.5,575.4L494.7,577.3L496.9,578.7L497.1,581.2L498.4,583.3L500.9,582.9L502.6,584.9L504.7,585.7L507.0,585.9L509.0,585.9L511.1,586.2L512.9,584.5L514.9,583.8L517.0,584.6L519.1,584.8L521.1,584.0L523.4,584.2L525.4,583.5L527.4,582.4L529.5,581.6L531.7,581.7L533.8,581.1L535.9,581.1L537.5,583.0L539.9,583.1L542.1,583.8L544.0,585.0L546.5,585.9L546.9,587.9L546.7,590.1L547.3,592.1L548.6,593.9L548.7,596.1L549.5,598.1L551.9,598.2L553.7,599.7L555.4,601.3L557.5,602.0L559.6,602.9L560.7,604.8L562.8,605.5L565.0,606.0L566.0,608.0"/>
<path d="M606.0,606.0L607.0,603.7L609.5,603.3L611.5,602.2L612.8,600.3L614.6,599.0L616.5,597.8L617.6,595.7L619.6,593.9L621.4,595.3L623.5,595.3L625.5,595.5L627.4,596.5L629.4,596.6L631.6,595.9L633.5,596.7L635.5,597.2L637.5,597.4L639.3,597.7L641.3,597.1L643.3,596.4L644.2,594.0L646.3,593.5L648.1,592.6L649.4,590.2L651.7,590.4L654.1,591.3L656.2,590.2L658.5,590.0L660.8,590.0L663.0,589.6L665.3,590.1L666.6,592.4L668.9,593.0L670.9,594.1L672.2,596.2L674.4,597.1L677.4,597.6L677.2,600.1L678.0,602.1L679.7,603.7L680.0,606.0"/>
<path d="M760.0,511.0L758.8,509.3L758.1,507.3L756.4,505.9L754.6,504.6L754.1,502.4L752.4,501.1L750.9,499.6L750.2,497.6L749.5,495.5L747.6,494.2L747.0,492.9L745.2,494.2L744.2,496.0L743.3,498.0L741.3,499.1L739.7,500.5L739.0,502.6L737.9,504.4L736.1,505.6L735.5,507.8L734.4,509.5L732.4,510.4L730.7,511.6L730.0,513.7L728.3,514.9L726.8,516.3L725.9,518.2L724.8,519.9L722.6,520.9L722.4,523.1L722.0,525.3L720.1,527.1L720.2,529.4L720.3,531.8L719.0,533.7L718.6,535.9L718.5,538.0L717.7,540.0L716.7,541.9L717.8,544.0L717.8,546.0L717.0,548.0L717.5,550.0L718.0,552.1L717.2,554.0L716.2,556.0L716.5,557.9L714.2,558.0L712.0,557.4L709.8,558.5L707.5,558.9L705.2,557.5L703.0,558.0L701.1,559.0L699.0,559.2L697.0,559.9L695.6,562.1L693.5,562.5L691.0,562.9L691.8,565.4L690.8,567.7L689.8,570.0L690.5,572.5L691.2,574.6L692.2,576.5L694.1,578.1L694.3,580.0L695.6,581.9L697.5,582.6L699.3,583.6L700.8,585.2L702.9,585.6L705.0,585.9L706.2,587.0L708.7,587.0L710.1,585.2L711.9,584.1L714.2,583.7L715.8,582.2L717.3,580.1L719.9,580.6L722.3,580.1L724.5,579.1L726.6,579.5L728.1,580.8L730.4,581.1L732.0,582.4L733.5,583.7L735.9,584.7L735.9,586.9L735.4,589.3L736.5,591.1L737.9,592.9L737.7,594.9L737.0,597.1L737.6,599.6L735.9,601.5L735.0,603.6L735.0,606.0"/>
<path d="M735.0,585.0L737.3,584.4L739.1,582.8L741.3,582.2L743.5,581.3L745.0,579.2L747.5,578.9L749.7,578.2L751.6,576.8L753.8,576.2L756.1,575.6L757.6,573.3L760.0,573.0"/>
</g>
<g class="adm2" style="stroke-width:1.7;stroke:#1e2832;stroke-opacity:0.66">
<path d="M747.7,301.7L748.5,302.9L748.5,304.6L747.1,306.4L745.7,306.8L744.1,306.9L742.0,305.3L742.2,303.9L742.1,302.2L743.9,301.0L745.6,302.0Z"/>
<path d="M708.5,325.1L703.1,326.2L698.2,323.5L698.9,320.6L703.6,318.6L709.3,317.2L715.6,321.6L712.1,324.2Z"/>
<path d="M724.2,342.5L726.2,340.0L728.4,338.8L731.1,337.2L734.5,339.8L733.1,343.0L730.5,346.1L728.0,345.5L725.5,344.1Z"/>
<path d="M664.9,361.5L665.2,358.5L665.2,355.3L666.5,351.2L668.5,349.1L671.4,348.4L674.0,351.5L674.2,355.8L672.5,359.2L668.5,363.5Z"/>
<path d="M693.0,358.4L692.8,361.9L689.7,361.5L687.6,362.6L684.3,362.0L683.1,358.6L684.2,357.7L687.4,356.5L690.0,355.0L692.8,356.1Z"/>
<path d="M706.7,371.1L704.4,371.2L701.7,372.1L700.5,371.3L698.8,369.2L699.5,367.6L701.2,367.0L702.0,365.3L704.6,364.7L706.4,366.3L707.7,368.4L708.6,369.9Z"/>
<path d="M638.3,377.5L635.9,377.3L633.6,378.0L633.9,375.3L634.2,374.0L635.6,373.3L638.8,373.2L638.2,375.2Z"/>
<path d="M648.4,368.8L647.2,370.0L646.7,370.5L645.0,372.3L644.3,370.4L643.1,370.0L643.3,368.3L644.4,367.3L644.8,365.7L646.8,365.9L648.0,366.9Z"/>
<path d="M658.9,386.6L658.5,383.6L657.7,381.0L659.7,379.6L661.9,379.0L663.7,380.9L666.9,381.8L665.9,385.0L664.7,386.5L661.8,386.6Z"/>
<path d="M689.0,394.9L688.5,397.0L686.6,398.2L683.1,397.3L681.7,394.3L681.4,393.8L682.4,390.9L681.8,388.3L686.3,388.6L689.0,389.8L689.9,391.4L692.6,392.9Z"/>
<path d="M729.2,383.7L729.4,387.0L731.5,391.2L723.5,393.2L717.8,390.9L714.9,390.0L715.2,386.7L716.8,383.0L723.4,383.1Z"/>
<path d="M739.9,379.8L739.7,375.6L739.4,371.7L740.9,369.2L743.6,371.8L746.2,373.7L748.3,376.5L747.6,377.9L747.4,382.7L745.1,385.5L740.9,386.7L740.1,381.6Z"/>
<path d="M742.4,418.3L740.5,415.3L735.7,415.4L733.9,411.2L736.2,407.9L740.0,406.8L745.9,408.7L750.7,408.3L750.7,411.8L752.4,414.6L748.7,416.4Z"/>
<path d="M729.3,426.0L731.2,428.6L737.5,431.2L736.1,435.4L735.0,438.6L725.1,442.4L720.6,441.0L715.2,439.5L714.8,433.1L714.2,431.6L715.9,425.9L722.8,427.5Z"/>
<path d="M739.6,431.0L738.5,426.3L740.2,423.5L743.4,424.8L744.7,427.0L744.8,430.6L743.3,433.1L741.0,432.7Z"/>
<path d="M741.8,445.3L744.1,445.6L745.7,444.5L746.8,447.1L748.9,448.3L747.8,449.7L747.0,450.9L745.1,452.1L743.8,452.9L742.1,450.5L741.0,448.7L740.9,447.2Z"/>
<path d="M625.4,398.8L624.2,400.9L622.9,401.8L619.7,402.6L616.3,400.7L618.4,399.4L619.8,398.7L622.1,397.6Z"/>
<path d="M632.3,406.6L632.4,408.8L629.0,409.0L625.7,407.9L625.2,405.5L627.3,403.9L630.6,404.9L634.0,405.0Z"/>
<path d="M702.4,412.5L699.5,413.0L696.9,412.6L696.4,411.0L694.4,409.8L696.5,408.4L696.3,407.0L698.6,406.1L701.4,408.2L703.3,407.9L702.5,409.7L702.8,411.6Z"/>
<path d="M677.2,440.4L675.1,439.7L672.1,437.9L671.7,434.2L674.1,431.6L677.1,429.5L678.8,432.0L680.2,433.3L680.0,438.3Z"/>
<path d="M660.3,459.0L657.1,460.9L655.2,459.0L652.4,459.6L651.6,457.4L653.3,456.2L655.8,455.2L658.3,455.8L662.2,455.4L662.1,456.7L661.8,458.5Z"/>
<path d="M648.3,460.1L653.3,459.6L658.8,458.2L661.9,461.3L658.9,463.6L657.2,465.7L653.3,466.0L650.2,466.3L647.1,463.5Z"/>
<path d="M694.9,468.5L696.2,475.1L694.1,480.3L689.5,481.3L684.8,478.7L679.8,477.0L681.9,470.3L685.0,463.8L688.8,463.5Z"/>
<path d="M707.2,467.2L704.7,467.1L703.4,467.2L702.4,465.1L701.9,464.2L701.9,461.9L703.7,460.0L704.7,460.8L706.7,461.1L708.3,462.6L709.6,464.5L708.3,465.6Z"/>
<path d="M660.4,480.9L662.8,476.1L666.9,475.0L669.6,482.0L669.3,486.9L667.2,490.2L664.5,490.8L661.8,487.8Z"/>
<path d="M723.8,483.7L726.5,482.9L727.9,482.4L730.3,481.2L732.6,483.6L730.4,486.2L729.8,489.6L728.5,489.8L725.7,487.9L724.9,485.2Z"/>
<path d="M619.8,513.7L619.1,514.3L617.0,514.4L615.8,513.7L613.9,513.2L614.7,511.4L615.1,510.5L615.6,509.1L617.5,508.7L618.8,509.0L619.1,510.9L619.2,511.5Z"/>
<path d="M654.5,532.3L652.0,532.2L650.0,533.1L647.2,531.3L645.6,528.9L647.3,527.4L648.8,523.5L651.5,525.6L652.5,525.2L655.5,526.5L655.7,528.4Z"/>
<path d="M674.6,521.7L677.3,521.0L677.4,524.1L676.8,526.0L674.5,527.7L671.0,525.7L669.4,523.4L671.8,521.7Z"/>
<path d="M674.5,537.2L672.8,535.8L672.9,534.8L675.4,534.4L677.0,533.8L678.0,534.8L678.8,535.9L679.0,537.4L677.4,538.4L675.9,537.9Z"/>
<path d="M624.1,549.8L622.1,550.9L621.4,551.4L619.5,550.8L618.4,550.7L617.2,547.9L618.1,544.9L619.1,544.1L620.8,544.7L622.7,543.6L623.3,546.8L623.7,547.8Z"/>
<path d="M688.8,542.9L691.3,543.7L692.3,544.9L693.1,546.7L693.6,548.1L691.8,551.4L690.4,549.7L688.7,549.6L686.6,548.5L687.3,545.3Z"/>
<path d="M701.7,541.9L705.0,541.8L705.1,543.2L705.1,545.4L702.4,546.3L701.0,547.5L698.4,546.2L698.5,544.3L698.7,541.8L700.2,541.2Z"/>
<path d="M650.6,564.3L653.6,564.5L655.5,567.0L654.8,570.1L651.3,571.2L648.8,570.8L647.4,568.0L648.4,566.3Z"/>
<path d="M629.1,583.6L629.3,586.2L627.9,589.8L625.7,587.9L623.4,586.7L624.1,582.6L624.2,580.7L627.1,578.2L628.0,581.2Z"/>
<path d="M598.9,565.5L598.1,562.5L597.7,558.5L599.5,555.6L602.6,556.7L603.9,559.7L603.8,563.0L603.6,566.3L600.8,567.4Z"/>
<path d="M657.2,590.5L656.8,587.3L659.0,587.0L661.3,588.0L663.2,590.3L661.4,591.1L659.9,592.7L656.7,592.4Z"/>
<path d="M684.7,590.4L686.4,591.5L684.2,593.8L684.2,595.5L681.8,595.0L680.0,595.2L677.4,596.0L677.8,593.9L676.1,592.4L676.9,590.3L680.4,590.9L682.7,590.1Z"/>
<path d="M699.8,601.4L699.2,599.8L698.6,598.7L698.2,597.3L698.3,595.8L700.3,595.6L701.4,595.6L703.5,595.9L704.2,597.6L703.7,599.1L703.6,601.8L701.2,602.2Z"/>
<path d="M713.7,595.4L713.8,597.6L714.2,601.4L710.7,602.3L708.8,599.9L706.1,598.1L707.6,594.4L711.1,594.1Z"/>
<path d="M755.3,598.4L752.4,597.7L751.6,594.2L752.4,591.7L754.7,591.9L757.0,591.5L757.3,594.8L757.6,597.4Z"/>
<path d="M506.1,454.2L508.2,453.4L509.0,454.3L510.8,455.4L509.4,456.2L509.7,457.9L508.1,459.6L506.1,459.3L505.1,457.8L504.6,456.4L504.2,454.7L505.1,454.6Z"/>
<path d="M487.0,470.5L490.0,468.5L493.4,470.0L494.9,471.1L494.2,474.8L492.9,475.9L490.7,477.3L486.6,475.6L484.5,474.0L484.1,472.0Z"/>
<path d="M484.6,480.4L488.3,482.2L491.7,484.0L490.6,488.2L485.9,490.2L482.1,489.4L480.6,486.1L480.5,483.3L481.4,479.7Z"/>
<path d="M495.9,497.8L497.9,495.6L500.3,496.1L501.9,498.6L501.9,500.1L501.9,501.3L500.0,504.9L498.4,503.1L496.2,502.3L495.9,500.2Z"/>
<path d="M534.2,499.1L531.8,499.8L529.4,498.9L529.0,496.8L531.3,494.5L534.0,492.9L536.0,495.4L535.5,497.6Z"/>
<path d="M469.8,515.8L468.8,512.7L469.6,509.9L475.2,508.3L478.0,509.7L482.9,510.8L482.4,513.8L482.2,516.8L477.4,516.3L472.4,518.2Z"/>
<path d="M519.0,511.8L520.3,511.5L521.1,510.3L522.9,511.4L524.1,512.2L523.3,515.0L522.9,516.6L521.4,516.6L518.7,518.0L517.7,516.1L517.4,514.0Z"/>
<path d="M537.3,522.3L538.2,521.0L540.4,521.0L541.0,523.8L541.1,525.7L539.4,526.1L537.6,526.7L536.7,525.0L536.5,523.2Z"/>
<path d="M507.1,534.9L507.3,536.8L503.7,536.9L502.7,536.4L499.4,535.0L499.4,533.7L501.3,532.0L502.8,530.4L506.0,532.2L506.8,533.1Z"/>
<path d="M484.7,539.6L490.5,540.1L494.4,540.3L496.1,544.0L491.5,546.9L488.8,548.7L484.6,546.8L482.8,543.2Z"/>
<path d="M444.6,527.7L446.8,526.3L448.6,528.1L451.8,528.0L450.8,530.6L449.6,531.8L448.1,533.6L446.5,534.0L444.8,533.9L443.1,532.2L442.9,530.2L441.1,528.9Z"/>
<path d="M410.9,561.3L408.9,561.7L406.3,560.3L406.1,556.0L406.0,553.5L409.3,553.5L413.2,551.9L413.5,555.6L413.2,558.7Z"/>
<path d="M395.9,560.1L397.6,562.2L399.5,562.2L399.2,564.9L399.7,567.9L398.4,568.8L395.6,569.9L394.8,568.4L393.5,566.2L391.3,565.3L392.3,563.0L393.7,560.2Z"/>
<path d="M393.8,582.0L393.2,580.1L394.5,577.5L396.0,577.0L396.5,576.7L397.6,577.1L399.0,578.8L399.2,580.2L399.2,582.3L397.5,582.8L396.4,584.3L394.3,583.1Z"/>
<path d="M417.0,591.0L414.3,588.4L414.7,585.8L417.7,584.3L420.2,583.6L420.7,586.5L421.7,588.4L420.3,590.4Z"/>
<path d="M435.6,572.6L433.7,569.7L435.5,568.9L436.0,567.4L437.9,567.3L440.1,569.1L441.8,569.7L439.6,572.1L439.8,574.3L438.2,574.3L435.1,574.9Z"/>
<path d="M442.0,582.1L441.3,585.1L440.8,585.7L440.2,586.9L438.4,588.5L437.5,587.2L435.9,586.2L436.1,584.4L437.1,583.0L437.6,581.4L439.0,582.1L440.8,580.6Z"/>
<path d="M455.7,560.5L456.8,562.9L452.8,563.2L451.3,563.1L448.2,562.6L446.0,561.7L448.2,559.9L447.6,558.8L448.1,556.9L451.8,556.5L453.6,558.6L455.2,559.3Z"/>
<path d="M457.1,584.3L455.0,584.8L452.1,583.6L452.4,581.5L454.3,580.3L457.6,579.5L459.8,581.8L458.7,583.2Z"/>
<path d="M480.7,568.3L482.1,569.8L481.7,571.0L482.0,573.8L479.4,575.9L477.3,575.2L474.6,572.9L472.1,572.0L471.7,569.2L473.2,568.6L475.6,567.8L478.6,568.4Z"/>
<path d="M505.6,570.1L506.9,572.6L505.6,575.2L503.2,577.0L500.1,577.2L497.2,575.2L498.0,573.1L498.4,570.6L499.3,567.6L500.6,567.2L503.9,569.8Z"/>
<path d="M460.5,598.5L461.6,597.2L462.5,596.1L466.3,595.1L467.9,595.4L469.1,597.1L470.7,599.8L468.5,601.0L465.0,602.5L462.8,601.8L461.5,600.4Z"/>
<path d="M540.8,568.8L539.3,570.5L537.8,571.2L537.0,570.2L536.8,568.0L536.6,566.2L537.3,565.2L538.9,563.2L539.9,566.2L541.6,566.8Z"/>
<path d="M538.9,434.0L537.1,435.8L535.3,434.0L533.6,436.3L532.2,433.1L532.0,430.7L531.8,428.3L532.9,424.2L534.6,424.9L536.8,424.5L538.5,426.9L539.3,429.5Z"/>
<path d="M591.4,462.0L593.6,463.0L594.6,464.1L595.2,466.7L595.0,468.1L593.2,470.0L591.5,470.5L588.8,470.7L587.8,469.7L586.8,467.6L586.5,465.5L588.4,464.0Z"/>
<path d="M551.0,516.0L553.2,513.7L556.0,515.1L558.3,515.1L558.0,517.4L558.4,519.4L554.6,521.9L553.1,520.9L551.1,518.6Z"/>
<path d="M577.2,514.3L575.2,514.1L577.0,511.7L577.2,510.5L579.3,510.2L581.4,510.3L581.2,512.3L581.8,512.9L581.1,515.5L580.3,516.1L578.4,515.2Z"/>
<path d="M592.0,518.3L592.3,516.2L592.5,515.4L593.7,513.3L594.9,513.2L596.3,513.5L598.0,514.2L599.0,515.6L599.5,516.9L597.9,518.3L596.5,518.5L593.7,518.9Z"/>
<path d="M560.3,571.9L560.4,575.2L558.0,574.0L555.9,574.3L555.6,571.9L555.6,569.3L557.8,569.7L559.6,570.2Z"/>
<path d="M564.4,557.1L564.8,552.5L568.2,553.0L570.0,556.0L572.1,557.9L575.8,560.6L572.8,562.3L568.9,564.4L566.4,566.9L563.8,562.8L561.1,560.2Z"/>
<path d="M586.3,561.1L586.5,564.6L582.9,565.4L581.2,566.3L578.4,564.2L577.2,561.6L580.7,559.6L582.8,560.4Z"/>
<path d="M597.7,569.9L598.7,569.2L599.8,568.4L601.1,569.1L601.8,570.5L601.1,571.9L600.2,572.9L599.1,574.8L596.9,572.8L597.6,571.5Z"/>
<path d="M650.5,403.0L656.0,401.5L661.0,401.0L667.0,402.5L671.6,405.0L673.0,412.0L672.6,418.0L667.0,424.0L664.0,426.0L661.0,424.0L656.0,421.0L652.6,418.0L650.5,409.5Z"/>
<path d="M664,426 L664,438 M661.5,438 h5 v4 h-5Z"/>
<path d="M625.0,405.0L631.0,404.0L636.0,407.0L633.0,409.0L627.0,408.0Z"/>
<path d="M690.0,406.0L697.0,405.0L703.0,408.0L700.0,412.0L693.0,410.0Z"/>
<path d="M527.0,466.0L529.0,462.0L534.0,461.0L537.0,465.0L535.0,470.0L531.0,472.0L528.0,476.0L526.0,471.0Z"/>
<path d="M530.0,425.0L533.0,423.0L537.0,426.0L536.0,431.0L539.0,434.0L535.0,437.0L531.0,434.0L533.0,430.0Z"/>
</g>
<path class="brd" d="M0.0,40.0C2.2,42.0 8.5,49.5 13.0,52.0C17.5,54.5 21.9,53.1 27.0,55.0C32.1,56.9 36.8,61.8 43.5,63.5C50.2,65.2 60.9,63.9 67.0,65.0C73.1,66.1 76.4,68.0 80.0,70.0C83.6,72.0 85.7,75.6 88.5,77.0C91.3,78.4 92.8,79.3 97.0,78.5C101.2,77.7 107.7,74.4 113.5,72.0C119.3,69.6 127.8,64.8 132.0,64.0C136.2,63.2 136.8,65.7 139.0,67.0C141.2,68.3 143.3,72.3 145.5,72.0C147.7,71.7 149.8,67.8 152.0,65.0C154.2,62.2 156.5,57.5 159.0,55.0C161.5,52.5 163.2,51.1 167.0,50.0C170.8,48.9 177.0,49.6 182.0,48.5C187.0,47.4 192.8,43.8 197.0,43.5C201.2,43.2 203.7,45.3 207.0,47.0C210.3,48.7 214.5,51.3 217.0,53.5C219.5,55.7 220.3,56.9 222.0,60.0C223.7,63.1 225.0,69.3 227.0,72.0C229.0,74.7 230.3,75.2 234.0,76.0C237.7,76.8 245.8,76.3 249.0,77.0C252.2,77.7 251.8,78.1 253.0,80.0C254.2,81.9 254.8,85.2 256.0,88.5C257.2,91.8 257.7,94.2 260.0,100.0C262.3,105.8 266.2,116.8 270.0,123.5C273.8,130.2 278.6,135.6 283.0,140.0C287.4,144.4 291.5,148.0 296.5,150.0C301.5,152.0 306.9,153.1 313.0,152.0C319.1,150.9 325.2,146.3 333.0,143.5C340.8,140.7 351.0,136.9 360.0,135.0C369.0,133.1 378.7,132.8 387.0,132.0C395.3,131.2 404.5,131.2 410.0,130.0C415.5,128.8 417.5,126.9 420.0,125.0C422.5,123.1 424.2,119.6 425.0,118.5"/>
<path class="brd" d="M425.0,118.5C425.0,112.7 424.4,91.6 425.0,83.5C425.6,75.4 428.5,76.7 428.5,70.0C428.5,63.3 424.2,50.2 425.0,43.5C425.8,36.8 429.8,34.4 433.5,30.0C437.2,25.6 442.8,21.4 447.0,17.0C451.2,12.6 456.0,6.7 458.5,3.5C461.0,0.3 461.4,-1.1 462.0,-2.0"/>
<path class="brd" d="M425.0,118.5C426.4,118.7 431.0,120.1 433.5,119.5C436.0,118.9 436.7,116.2 440.0,115.0C443.3,113.8 448.8,111.4 453.5,112.0C458.2,112.6 466.6,113.8 468.5,118.5C470.4,123.2 463.9,136.1 465.0,140.0C466.1,143.9 472.8,138.7 475.0,142.0C477.2,145.3 477.1,154.7 478.5,160.0C479.9,165.3 481.0,168.9 483.5,174.0C486.0,179.1 490.8,186.3 493.5,190.5C496.2,194.7 497.8,197.9 500.0,199.0C502.2,200.1 503.8,197.0 507.0,197.0C510.2,197.0 515.0,199.3 519.0,199.0C523.0,198.7 527.6,195.3 531.0,195.0C534.4,194.7 536.4,194.2 539.5,197.0C542.6,199.8 545.9,205.6 549.5,212.0C553.1,218.4 557.7,228.5 561.0,235.5C564.3,242.5 567.0,249.2 569.5,254.0C572.0,258.8 572.1,262.5 576.0,264.0C579.9,265.5 588.0,263.3 593.0,263.0C598.0,262.7 601.8,263.0 606.0,262.0C610.2,261.0 614.0,257.0 618.0,257.0C622.0,257.0 625.8,259.5 630.0,262.0C634.2,264.5 639.2,268.1 643.0,272.0C646.8,275.9 650.5,281.0 653.0,285.5C655.5,290.0 657.7,294.2 658.0,299.0C658.3,303.8 656.3,309.8 655.0,314.0C653.7,318.2 649.8,320.9 650.0,324.0C650.2,327.1 654.3,330.2 656.5,332.5C658.7,334.8 661.9,336.7 663.0,337.5"/>
<path class="brd" d="M663.0,337.5C664.7,336.9 670.5,335.9 673.0,334.0C675.5,332.1 677.4,329.3 678.0,326.0C678.6,322.7 675.7,316.8 676.5,314.0C677.3,311.2 680.2,309.2 683.0,309.0C685.8,308.8 689.1,310.8 693.0,312.5C696.9,314.2 702.0,319.0 706.5,319.0C711.0,319.0 716.1,316.3 720.0,312.5C723.9,308.7 727.2,301.9 730.0,296.0C732.8,290.1 734.3,281.8 736.5,277.0C738.7,272.2 739.1,268.7 743.0,267.0C746.9,265.3 757.2,267.0 760.0,267.0"/>
<path class="brd" d="M663.0,337.5C661.3,340.0 656.7,348.1 653.0,352.5C649.3,356.9 644.8,360.9 641.0,364.0C637.2,367.1 632.8,368.3 630.0,371.0C627.2,373.7 625.1,376.5 624.0,380.0C622.9,383.5 624.8,389.1 623.5,392.0C622.2,394.9 618.9,396.0 616.0,397.5C613.1,399.0 609.3,398.5 606.0,401.0C602.7,403.5 599.8,408.9 596.0,412.5C592.2,416.1 588.0,420.0 583.0,422.5C578.0,425.0 571.6,426.7 566.0,427.5C560.4,428.3 554.2,428.6 549.5,427.5C544.8,426.4 541.6,423.2 538.0,421.0C534.4,418.8 531.3,415.1 528.0,414.5C524.7,413.9 520.3,415.1 518.0,417.5C515.7,419.9 515.3,425.8 514.0,429.0C512.7,432.2 513.4,435.0 510.0,437.0C506.6,439.0 498.5,440.2 493.5,441.0C488.5,441.8 483.9,440.4 480.0,441.5C476.1,442.6 473.3,444.8 470.0,447.5C466.7,450.2 463.3,454.2 460.0,457.5C456.7,460.8 452.5,463.6 450.0,467.5C447.5,471.4 446.7,476.8 445.0,481.0C443.3,485.2 441.7,488.9 440.0,492.5C438.3,496.1 437.2,499.4 435.0,502.5C432.8,505.6 430.6,508.2 427.0,511.0C423.4,513.8 418.0,516.2 413.5,519.0C409.0,521.8 403.9,524.7 400.0,527.5C396.1,530.3 392.8,533.2 390.0,536.0C387.2,538.8 384.7,541.2 383.0,544.5C381.3,547.8 380.7,551.6 380.0,556.0C379.3,560.4 378.7,565.2 379.0,571.0C379.3,576.8 381.3,585.2 382.0,591.0C382.7,596.8 382.8,603.5 383.0,606.0"/>
<path d="M60.9,73.1 L63.2,71.0 L63.2,79.9" fill="none" stroke="#000" stroke-width="1.05" stroke-linejoin="miter"/>
<path d="M140.8,73.1 L143.1,71.0 L143.1,79.9" fill="none" stroke="#000" stroke-width="1.05" stroke-linejoin="miter"/>
<text class="num" transform="translate(222.1 75.4) scale(0.82 1)" x="0" y="4.6">2</text>
<text class="num" transform="translate(302.0 75.4) scale(0.82 1)" x="0" y="4.6">4</text>
<text class="num" transform="translate(381.9 75.4) scale(0.82 1)" x="0" y="4.6">7</text>
<text class="num" transform="translate(461.8 75.4) scale(0.82 1)" x="0" y="4.6">8</text>
<text class="num" transform="translate(542.7 75.4) scale(0.82 1)" x="0" y="4.6">13</text>
<text class="num" transform="translate(622.6 75.4) scale(0.82 1)" x="0" y="4.6">15</text>
<text class="num" transform="translate(702.5 75.4) scale(0.82 1)" x="0" y="4.6">16</text>
<path d="M60.9,192.8 L63.2,190.7 L63.2,199.6" fill="none" stroke="#000" stroke-width="1.05" stroke-linejoin="miter"/>
<text class="num" transform="translate(142.2 195.1) scale(0.82 1)" x="0" y="4.6">2</text>
<text class="num" transform="translate(222.1 195.1) scale(0.82 1)" x="0" y="4.6">3</text>
<text class="num" transform="translate(302.0 195.1) scale(0.82 1)" x="0" y="4.6">4</text>
<text class="num" transform="translate(381.9 195.1) scale(0.82 1)" x="0" y="4.6">6</text>
<text class="num" transform="translate(461.8 195.1) scale(0.82 1)" x="0" y="4.6">6</text>
<text class="num" transform="translate(541.7 195.1) scale(0.82 1)" x="0" y="4.6">6</text>
<text class="num" transform="translate(621.6 195.1) scale(0.82 1)" x="0" y="4.6">8</text>
<text class="num" transform="translate(701.5 195.1) scale(0.82 1)" x="0" y="4.6">8</text>
<path d="M60.9,312.4 L63.2,310.3 L63.2,319.2" fill="none" stroke="#000" stroke-width="1.05" stroke-linejoin="miter"/>
<text class="num" transform="translate(142.2 314.7) scale(0.82 1)" x="0" y="4.6">2</text>
<text class="num" transform="translate(222.1 314.7) scale(0.82 1)" x="0" y="4.6">3</text>
<text class="num" transform="translate(302.0 314.7) scale(0.82 1)" x="0" y="4.6">4</text>
<text class="num" transform="translate(381.9 314.7) scale(0.82 1)" x="0" y="4.6">5</text>
<text class="num" transform="translate(461.8 314.7) scale(0.82 1)" x="0" y="4.6">5</text>
<text class="num" transform="translate(541.7 314.7) scale(0.82 1)" x="0" y="4.6">4</text>
<text class="num" transform="translate(621.6 314.7) scale(0.82 1)" x="0" y="4.6">5</text>
<text class="num" transform="translate(701.5 314.7) scale(0.82 1)" x="0" y="4.6">4</text>
<path d="M60.9,432.1 L63.2,430.0 L63.2,438.9" fill="none" stroke="#000" stroke-width="1.05" stroke-linejoin="miter"/>
<path d="M140.8,432.1 L143.1,430.0 L143.1,438.9" fill="none" stroke="#000" stroke-width="1.05" stroke-linejoin="miter"/>
<text class="num" transform="translate(222.1 434.4) scale(0.82 1)" x="0" y="4.6">3</text>
<text class="num" transform="translate(302.0 434.4) scale(0.82 1)" x="0" y="4.6">3</text>
<text class="num" transform="translate(381.9 434.4) scale(0.82 1)" x="0" y="4.6">3</text>
<text class="num" transform="translate(461.8 434.4) scale(0.82 1)" x="0" y="4.6">3</text>
<text class="num" transform="translate(541.7 434.4) scale(0.82 1)" x="0" y="4.6">2</text>
<text class="num" transform="translate(621.6 434.4) scale(0.82 1)" x="0" y="4.6">3</text>
<text class="num" transform="translate(701.5 434.4) scale(0.82 1)" x="0" y="4.6">3</text>
<path d="M60.9,551.7 L63.2,549.6 L63.2,558.5" fill="none" stroke="#000" stroke-width="1.05" stroke-linejoin="miter"/>
<text class="num" transform="translate(142.2 554.0) scale(0.82 1)" x="0" y="4.6">2</text>
<text class="num" transform="translate(222.1 554.0) scale(0.82 1)" x="0" y="4.6">2</text>
<text class="num" transform="translate(302.0 554.0) scale(0.82 1)" x="0" y="4.6">2</text>
<text class="num" transform="translate(381.9 554.0) scale(0.82 1)" x="0" y="4.6">2</text>
<path d="M460.4,551.7 L462.7,549.6 L462.7,558.5" fill="none" stroke="#000" stroke-width="1.05" stroke-linejoin="miter"/>
<path d="M540.3,551.7 L542.6,549.6 L542.6,558.5" fill="none" stroke="#000" stroke-width="1.05" stroke-linejoin="miter"/>
<path d="M620.2,551.7 L622.5,549.6 L622.5,558.5" fill="none" stroke="#000" stroke-width="1.05" stroke-linejoin="miter"/>
<path d="M700.1,551.7 L702.4,549.6 L702.4,558.5" fill="none" stroke="#000" stroke-width="1.05" stroke-linejoin="miter"/>
<g class="halo" filter="url(#blur)"><text x="44.0" y="3.0" font-size="9.3" textLength="34.0" lengthAdjust="spacing">Moldava</text><text x="33.0" y="14.5" font-size="9.3" textLength="56.5" lengthAdjust="spacing">nad Bodvou</text><text x="271.0" y="6.0" font-size="9.3" textLength="43.0" lengthAdjust="spacing">Trebišov</text><text x="451.0" y="17.6" font-size="10.9" textLength="56.5" lengthAdjust="spacing">Ужгород</text><text x="678.0" y="47.0" font-size="9.3" textLength="41.0" lengthAdjust="spacing">Свалява</text><text x="585.0" y="96.0" font-size="9.3" textLength="54.0" lengthAdjust="spacing">Мукачеве</text><text x="235.0" y="118.5" font-size="9.3" textLength="75.0" lengthAdjust="spacing">Sátoraljaújhely</text><text x="386.0" y="203.5" font-size="9.3" textLength="42.0" lengthAdjust="spacing">Kisvárda</text><text x="563.0" y="209.0" font-size="9.3" textLength="51.0" lengthAdjust="spacing">Берегове</text><text x="682.0" y="240.0" font-size="9.3" textLength="63.0" lengthAdjust="spacing">Виноградів</text><text x="458.5" y="327.5" font-size="9.3" textLength="55.0" lengthAdjust="spacing">Mátészalka</text><text x="253.0" y="336.5" font-size="10.9" textLength="77.0" lengthAdjust="spacing">Nyíregyháza</text><text x="149.0" y="328.0" font-size="9.3" textLength="60.5" lengthAdjust="spacing">Tiszavasvári</text><text x="46.0" y="341.5" font-size="9.3" textLength="61.0" lengthAdjust="spacing">Tiszaújváros</text><text x="176.0" y="465.0" font-size="9.3" textLength="97.5" lengthAdjust="spacing">Hajdúböszörmény</text><text x="232.5" y="540.0" font-size="10.9" textLength="60.0" lengthAdjust="spacing">Debrecen</text><text x="145.0" y="573.5" font-size="9.3" textLength="83.0" lengthAdjust="spacing">Hajdúszoboszló</text><text x="519.0" y="459.0" font-size="9.3" textLength="27.5" lengthAdjust="spacing">Carei</text><text x="633.0" y="413.5" font-size="10.9" textLength="62.0" lengthAdjust="spacing">Satu Mare</text><text x="404.0" y="528.5" font-size="9.3" textLength="42.0" lengthAdjust="spacing">Valea lui</text><text x="412.5" y="538.5" font-size="9.3" textLength="25.0" lengthAdjust="spacing">Mihai</text><text x="2.0" y="187.0" font-size="9.3" textLength="17.0" lengthAdjust="spacing">ika</text><text x="2.0" y="266.0" font-size="9.3" textLength="15.0" lengthAdjust="spacing">olc</text><text x="2.0" y="492.0" font-size="9.3" textLength="5.5" lengthAdjust="spacing">d</text></g>
<g class="halo" filter="url(#blur)" opacity="0.8"><text x="44.0" y="3.0" font-size="9.3" textLength="34.0" lengthAdjust="spacing">Moldava</text><text x="33.0" y="14.5" font-size="9.3" textLength="56.5" lengthAdjust="spacing">nad Bodvou</text><text x="271.0" y="6.0" font-size="9.3" textLength="43.0" lengthAdjust="spacing">Trebišov</text><text x="451.0" y="17.6" font-size="10.9" textLength="56.5" lengthAdjust="spacing">Ужгород</text><text x="678.0" y="47.0" font-size="9.3" textLength="41.0" lengthAdjust="spacing">Свалява</text><text x="585.0" y="96.0" font-size="9.3" textLength="54.0" lengthAdjust="spacing">Мукачеве</text><text x="235.0" y="118.5" font-size="9.3" textLength="75.0" lengthAdjust="spacing">Sátoraljaújhely</text><text x="386.0" y="203.5" font-size="9.3" textLength="42.0" lengthAdjust="spacing">Kisvárda</text><text x="563.0" y="209.0" font-size="9.3" textLength="51.0" lengthAdjust="spacing">Берегове</text><text x="682.0" y="240.0" font-size="9.3" textLength="63.0" lengthAdjust="spacing">Виноградів</text><text x="458.5" y="327.5" font-size="9.3" textLength="55.0" lengthAdjust="spacing">Mátészalka</text><text x="253.0" y="336.5" font-size="10.9" textLength="77.0" lengthAdjust="spacing">Nyíregyháza</text><text x="149.0" y="328.0" font-size="9.3" textLength="60.5" lengthAdjust="spacing">Tiszavasvári</text><text x="46.0" y="341.5" font-size="9.3" textLength="61.0" lengthAdjust="spacing">Tiszaújváros</text><text x="176.0" y="465.0" font-size="9.3" textLength="97.5" lengthAdjust="spacing">Hajdúböszörmény</text><text x="232.5" y="540.0" font-size="10.9" textLength="60.0" lengthAdjust="spacing">Debrecen</text><text x="145.0" y="573.5" font-size="9.3" textLength="83.0" lengthAdjust="spacing">Hajdúszoboszló</text><text x="519.0" y="459.0" font-size="9.3" textLength="27.5" lengthAdjust="spacing">Carei</text><text x="633.0" y="413.5" font-size="10.9" textLength="62.0" lengthAdjust="spacing">Satu Mare</text><text x="404.0" y="528.5" font-size="9.3" textLength="42.0" lengthAdjust="spacing">Valea lui</text><text x="412.5" y="538.5" font-size="9.3" textLength="25.0" lengthAdjust="spacing">Mihai</text><text x="2.0" y="187.0" font-size="9.3" textLength="17.0" lengthAdjust="spacing">ika</text><text x="2.0" y="266.0" font-size="9.3" textLength="15.0" lengthAdjust="spacing">olc</text><text x="2.0" y="492.0" font-size="9.3" textLength="5.5" lengthAdjust="spacing">d</text></g>
<g fill="#f0f0f0"><text x="44.0" y="3.0" font-size="9.3" textLength="34.0" lengthAdjust="spacing">Moldava</text><text x="33.0" y="14.5" font-size="9.3" textLength="56.5" lengthAdjust="spacing">nad Bodvou</text><text x="271.0" y="6.0" font-size="9.3" textLength="43.0" lengthAdjust="spacing">Trebišov</text><text x="451.0" y="17.6" font-size="10.9" textLength="56.5" lengthAdjust="spacing">Ужгород</text><text x="678.0" y="47.0" font-size="9.3" textLength="41.0" lengthAdjust="spacing">Свалява</text><text x="585.0" y="96.0" font-size="9.3" textLength="54.0" lengthAdjust="spacing">Мукачеве</text><text x="235.0" y="118.5" font-size="9.3" textLength="75.0" lengthAdjust="spacing">Sátoraljaújhely</text><text x="386.0" y="203.5" font-size="9.3" textLength="42.0" lengthAdjust="spacing">Kisvárda</text><text x="563.0" y="209.0" font-size="9.3" textLength="51.0" lengthAdjust="spacing">Берегове</text><text x="682.0" y="240.0" font-size="9.3" textLength="63.0" lengthAdjust="spacing">Виноградів</text><text x="458.5" y="327.5" font-size="9.3" textLength="55.0" lengthAdjust="spacing">Mátészalka</text><text x="253.0" y="336.5" font-size="10.9" textLength="77.0" lengthAdjust="spacing">Nyíregyháza</text><text x="149.0" y="328.0" font-size="9.3" textLength="60.5" lengthAdjust="spacing">Tiszavasvári</text><text x="46.0" y="341.5" font-size="9.3" textLength="61.0" lengthAdjust="spacing">Tiszaújváros</text><text x="176.0" y="465.0" font-size="9.3" textLength="97.5" lengthAdjust="spacing">Hajdúböszörmény</text><text x="232.5" y="540.0" font-size="10.9" textLength="60.0" lengthAdjust="spacing">Debrecen</text><text x="145.0" y="573.5" font-size="9.3" textLength="83.0" lengthAdjust="spacing">Hajdúszoboszló</text><text x="519.0" y="459.0" font-size="9.3" textLength="27.5" lengthAdjust="spacing">Carei</text><text x="633.0" y="413.5" font-size="10.9" textLength="62.0" lengthAdjust="spacing">Satu Mare</text><text x="404.0" y="528.5" font-size="9.3" textLength="42.0" lengthAdjust="spacing">Valea lui</text><text x="412.5" y="538.5" font-size="9.3" textLength="25.0" lengthAdjust="spacing">Mihai</text><text x="2.0" y="187.0" font-size="9.3" textLength="17.0" lengthAdjust="spacing">ika</text><text x="2.0" y="266.0" font-size="9.3" textLength="15.0" lengthAdjust="spacing">olc</text><text x="2.0" y="492.0" font-size="9.3" textLength="5.5" lengthAdjust="spacing">d</text></g>
<rect class="mk" x="60.0" y="17.2" width="4.6" height="4.6"/>
<rect class="mk" x="290.0" y="9.7" width="4.6" height="4.6"/>
<rect class="mk" x="696.5" y="49.2" width="4.6" height="4.6"/>
<rect class="mk" x="610.0" y="98.7" width="4.6" height="4.6"/>
<rect class="mk" x="270.0" y="120.7" width="4.6" height="4.6"/>
<rect class="mk" x="406.0" y="205.7" width="4.6" height="4.6"/>
<rect class="mk" x="587.0" y="212.7" width="4.6" height="4.6"/>
<rect class="mk" x="711.5" y="242.7" width="4.6" height="4.6"/>
<rect class="mk" x="483.5" y="329.2" width="4.6" height="4.6"/>
<rect class="mk" x="177.5" y="330.7" width="4.6" height="4.6"/>
<rect class="mk" x="75.0" y="344.7" width="4.6" height="4.6"/>
<rect class="mk" x="222.0" y="467.7" width="4.6" height="4.6"/>
<rect class="mk" x="184.5" y="576.2" width="4.6" height="4.6"/>
<rect class="mk" x="530.0" y="462.7" width="4.6" height="4.6"/>
<rect class="mk" x="422.5" y="541.7" width="4.6" height="4.6"/>
<g transform="translate(688.2 79.7) scale(0.79 1)"><text x="1.2" y="1" text-anchor="middle" font-size="19.4" fill="#111">16</text><text x="0" y="0" text-anchor="middle" font-size="19.4" fill="#fff" stroke="#fff" stroke-width="0.5">16</text></g>
<rect x="337" y="605" width="423" height="12" fill="#000"/>
<text x="339.5" y="613.8" font-size="9.2" fill="#f4f4f4" textLength="416.5" lengthAdjust="spacingAndGlyphs">Map data © OpenStreetMap contributors, rendering GIScience Research Group @ Heidelberg University</text>
</g>
<path d="M1,0 V616 H759 V0" fill="none" stroke="#000" stroke-width="2"/>
<rect x="0" y="0" width="760" height="2" fill="#000"/>
<rect x="0" y="614.9" width="760" height="2.7" fill="#000"/>
<g>
<text x="16.6" y="659.7" font-size="20.4" font-weight="bold" fill="#111" stroke="#111" stroke-width="0.35" textLength="205.5" lengthAdjust="spacingAndGlyphs">Snow depth (cm)</text>
<path d="M32.3,671.8 L2,680.5 L32.3,689.2Z" fill="#f4f4f4" stroke="#000" stroke-width="1"/>
<path d="M727.9,671.8 L759,680.5 L727.9,689.2Z" fill="#500000" stroke="#000" stroke-width="1"/>
<rect x="32.30" y="671.8" width="31.72" height="17.4" fill="#dcdcfa"/>
<rect x="63.92" y="671.8" width="31.72" height="17.4" fill="#aaaacd"/>
<rect x="95.54" y="671.8" width="31.72" height="17.4" fill="#78b9ff"/>
<rect x="127.16" y="671.8" width="31.72" height="17.4" fill="#3896fb"/>
<rect x="158.78" y="671.8" width="31.72" height="17.4" fill="#0882fb"/>
<rect x="190.40" y="671.8" width="31.72" height="17.4" fill="#056bd6"/>
<rect x="222.02" y="671.8" width="31.72" height="17.4" fill="#0553a1"/>
<rect x="253.64" y="671.8" width="31.72" height="17.4" fill="#03317f"/>
<rect x="285.26" y="671.8" width="31.72" height="17.4" fill="#500082"/>
<rect x="316.88" y="671.8" width="31.72" height="17.4" fill="#690082"/>
<rect x="348.50" y="671.8" width="31.72" height="17.4" fill="#9600c8"/>
<rect x="380.12" y="671.8" width="31.72" height="17.4" fill="#b900f0"/>
<rect x="411.74" y="671.8" width="31.72" height="17.4" fill="#cd37fa"/>
<rect x="443.36" y="671.8" width="31.72" height="17.4" fill="#e6a5fa"/>
<rect x="474.98" y="671.8" width="31.72" height="17.4" fill="#f0cdfa"/>
<rect x="506.60" y="671.8" width="31.72" height="17.4" fill="#fab4cd"/>
<rect x="538.22" y="671.8" width="31.72" height="17.4" fill="#fa9696"/>
<rect x="569.84" y="671.8" width="31.72" height="17.4" fill="#fa6e6e"/>
<rect x="601.46" y="671.8" width="31.72" height="17.4" fill="#e60a46"/>
<rect x="633.08" y="671.8" width="31.72" height="17.4" fill="#be0000"/>
<rect x="664.70" y="671.8" width="31.72" height="17.4" fill="#a00000"/>
<rect x="696.32" y="671.8" width="31.72" height="17.4" fill="#820000"/>
<rect x="32.3" y="671.8" width="695.6" height="17.4" fill="none" stroke="#000" stroke-width="1.1"/>
<path d="M63.92,671.8 V689.2" stroke="#000" stroke-width="1.1"/>
<path d="M95.54,671.8 V689.2" stroke="#000" stroke-width="1.1"/>
<path d="M127.16,671.8 V689.2" stroke="#000" stroke-width="1.1"/>
<path d="M158.78,671.8 V689.2" stroke="#000" stroke-width="1.1"/>
<path d="M190.40,671.8 V689.2" stroke="#000" stroke-width="1.1"/>
<path d="M222.02,671.8 V689.2" stroke="#000" stroke-width="1.1"/>
<path d="M253.64,671.8 V689.2" stroke="#000" stroke-width="1.1"/>
<path d="M285.26,671.8 V689.2" stroke="#000" stroke-width="1.1"/>
<path d="M316.88,671.8 V689.2" stroke="#000" stroke-width="1.1"/>
<path d="M348.50,671.8 V689.2" stroke="#000" stroke-width="1.1"/>
<path d="M380.12,671.8 V689.2" stroke="#000" stroke-width="1.1"/>
<path d="M411.74,671.8 V689.2" stroke="#000" stroke-width="1.1"/>
<path d="M443.36,671.8 V689.2" stroke="#000" stroke-width="1.1"/>
<path d="M474.98,671.8 V689.2" stroke="#000" stroke-width="1.1"/>
<path d="M506.60,671.8 V689.2" stroke="#000" stroke-width="1.1"/>
<path d="M538.22,671.8 V689.2" stroke="#000" stroke-width="1.1"/>
<path d="M569.84,671.8 V689.2" stroke="#000" stroke-width="1.1"/>
<path d="M601.46,671.8 V689.2" stroke="#000" stroke-width="1.1"/>
<path d="M633.08,671.8 V689.2" stroke="#000" stroke-width="1.1"/>
<path d="M664.70,671.8 V689.2" stroke="#000" stroke-width="1.1"/>
<path d="M696.32,671.8 V689.2" stroke="#000" stroke-width="1.1"/>
<text class="cb" x="0.0" y="709.4" transform="translate(32.3 0) scale(0.72 1) translate(0.0 0)">0.1</text>
<text class="cb" x="0.0" y="709.4" transform="translate(63.9 0) scale(0.72 1) translate(0.0 0)">0.5</text>
<text class="cb" x="0.0" y="709.4" transform="translate(95.5 0) scale(0.72 1) translate(0.0 0)">1</text>
<text class="cb" x="0.0" y="709.4" transform="translate(127.2 0) scale(0.72 1) translate(0.0 0)">2</text>
<text class="cb" x="0.0" y="709.4" transform="translate(158.8 0) scale(0.72 1) translate(0.0 0)">3</text>
<text class="cb" x="0.0" y="709.4" transform="translate(190.4 0) scale(0.72 1) translate(0.0 0)">4</text>
<text class="cb" x="0.0" y="709.4" transform="translate(222.0 0) scale(0.72 1) translate(0.0 0)">5</text>
<text class="cb" x="0.0" y="709.4" transform="translate(253.6 0) scale(0.72 1) translate(0.0 0)">7</text>
<text class="cb" x="0.0" y="709.4" transform="translate(285.3 0) scale(0.72 1) translate(0.0 0)">10</text>
<text class="cb" x="0.0" y="709.4" transform="translate(316.9 0) scale(0.72 1) translate(0.0 0)">15</text>
<text class="cb" x="0.0" y="709.4" transform="translate(348.5 0) scale(0.72 1) translate(0.0 0)">20</text>
<text class="cb" x="0.0" y="709.4" transform="translate(380.1 0) scale(0.72 1) translate(0.0 0)">30</text>
<text class="cb" x="0.0" y="709.4" transform="translate(411.7 0) scale(0.72 1) translate(0.0 0)">40</text>
<text class="cb" x="0.0" y="709.4" transform="translate(443.4 0) scale(0.72 1) translate(0.0 0)">50</text>
<text class="cb" x="0.0" y="709.4" transform="translate(475.0 0) scale(0.72 1) translate(0.0 0)">60</text>
<text class="cb" x="0.0" y="709.4" transform="translate(506.6 0) scale(0.72 1) translate(0.0 0)">70</text>
<text class="cb" x="0.0" y="709.4" transform="translate(538.2 0) scale(0.72 1) translate(0.0 0)">80</text>
<text class="cb" x="0.0" y="709.4" transform="translate(569.8 0) scale(0.72 1) translate(0.0 0)">100</text>
<text class="cb" x="0.0" y="709.4" transform="translate(601.5 0) scale(0.72 1) translate(0.0 0)">150</text>
<text class="cb" x="0.0" y="709.4" transform="translate(633.1 0) scale(0.72 1) translate(0.0 0)">200</text>
<text class="cb" x="0.0" y="709.4" transform="translate(664.7 0) scale(0.72 1) translate(0.0 0)">250</text>
<text class="cb" x="0.0" y="709.4" transform="translate(696.3 0) scale(0.72 1) translate(0.0 0)">300</text>
<text class="cb" x="0.0" y="709.4" transform="translate(727.9 0) scale(0.72 1) translate(0.0 0)">400</text>
<text class="inf" x="16.4" y="735" textLength="155" lengthAdjust="spacing">Szabolcs-Szatmár-Bereg</text>
<text class="inf" x="16.4" y="751" textLength="248.5" lengthAdjust="spacing">GFS (15 days) #27 from  12/17/2024/00z</text>
<text class="inf" x="753.5" y="646" text-anchor="end" textLength="47.5" lengthAdjust="spacing">Valid for</text>
<text class="inf" x="753.5" y="659.5" text-anchor="end" textLength="181.5" lengthAdjust="spacing">Tue 12/24/2024, 10:00pm CET</text>
<g>
<rect x="563.2" y="733.2" width="32.2" height="17" fill="#777" opacity="0.7"/>
<rect x="562" y="732" width="32.5" height="17.3" fill="#fff"/>
<rect x="562" y="732.00" width="32.5" height="1.33" fill="#c8323c"/>
<rect x="562" y="734.66" width="32.5" height="1.33" fill="#c8323c"/>
<rect x="562" y="737.32" width="32.5" height="1.33" fill="#c8323c"/>
<rect x="562" y="739.98" width="32.5" height="1.33" fill="#c8323c"/>
<rect x="562" y="742.64" width="32.5" height="1.33" fill="#c8323c"/>
<rect x="562" y="745.30" width="32.5" height="1.33" fill="#c8323c"/>
<rect x="562" y="747.96" width="32.5" height="1.33" fill="#c8323c"/>
<rect x="562" y="732" width="13" height="9.3" fill="#52528a"/>
</g>
<g>
<defs><linearGradient id="lg" x1="0" y1="0" x2="0.6" y2="1"><stop offset="0" stop-color="#3cd2ff"/><stop offset="1" stop-color="#1e6ef0"/></linearGradient></defs>
<path d="M613,731.3 L620.7,735.7 L620.7,744.9 L613,749.3 L605.3,744.9 L605.3,735.7Z" fill="#fff" stroke="url(#lg)" stroke-width="1.6" stroke-linejoin="round"/>
<path d="M606.3,744.6 L609.5,740.5 L612.6,734.6 L614.6,739.6 L613.4,742.6 L617.2,746.8 L613,749 Z" fill="#2387f5"/>
<path d="M612.8,734.4 L615.6,736.8 L619.6,744.4 L617.6,746.4 L614.6,739.6Z" fill="#8a8c9c"/>
</g>
<text x="622" y="746" font-size="17.5" font-weight="bold" fill="#0f2346" textLength="127.5" lengthAdjust="spacingAndGlyphs">meteologix.com</text>
</g>
</svg></body></html>
